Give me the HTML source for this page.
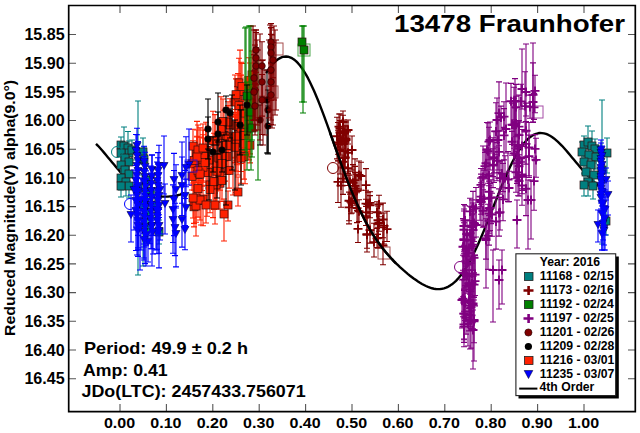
<!DOCTYPE html>
<html><head><meta charset="utf-8"><style>
html,body{margin:0;padding:0;background:#fff;}
svg{display:block;}
text{font-family:"Liberation Sans",sans-serif;font-weight:bold;fill:#000;}
</style></head><body>
<svg width="640" height="433" viewBox="0 0 640 433">
<rect width="640" height="433" fill="#fff"/>
<path d="M96.0 143.8 L98.0 145.8 L100.0 148.0 L102.0 150.3 L104.0 152.6 L106.0 155.0 L108.0 157.4 L110.0 159.8 L112.0 162.2 L114.0 164.6 L116.0 167.0 L118.0 169.3 L120.0 171.6 L122.0 173.8 L124.0 175.9 L126.0 178.0 L128.0 179.9 L130.0 181.8M156.0 195.7 L158.0 196.1 L160.0 196.3 L162.0 196.5 L164.0 196.6 L166.0 196.6 L168.0 196.6 L170.0 196.4 L172.0 196.2 L174.0 195.9 L176.0 195.6 L178.0 195.1 L180.0 194.6 L182.0 194.0 L184.0 193.3M266.0 73.1 L268.0 70.1 L270.0 67.4 L272.0 64.9 L274.0 62.8 L276.0 60.9 L278.0 59.3 L280.0 58.1 L282.0 57.2 L284.0 56.7 L286.0 56.5 L288.0 56.7 L290.0 57.3 L292.0 58.2 L294.0 59.5 L296.0 61.1 L298.0 63.2 L300.0 65.5 L302.0 68.2 L304.0 71.3 L306.0 74.6 L308.0 78.2 L310.0 82.2 L312.0 86.4 L314.0 90.8 L316.0 95.5 L318.0 100.3 L320.0 105.4 L322.0 110.6 L324.0 115.9 L326.0 121.4 L328.0 126.9 L330.0 132.5 L332.0 138.1 L334.0 143.8 L336.0 149.4 L338.0 155.0 L340.0 160.6 L342.0 166.1 L344.0 171.5 L346.0 176.8 L348.0 182.0 L350.0 187.1 L352.0 192.1 L354.0 196.9 L356.0 201.5 L358.0 206.0 L360.0 210.4 L362.0 214.5 L364.0 218.5 L366.0 222.4 L368.0 226.0 L370.0 229.5 L372.0 232.9 L374.0 236.1 L376.0 239.1 L378.0 242.0 L380.0 244.8 L382.0 247.5 L384.0 250.0 L386.0 252.5 L388.0 254.8 L390.0 257.0 L392.0 259.2 L394.0 261.3 L396.0 263.3 L398.0 265.2 L400.0 267.1 L402.0 268.9 L404.0 270.7 L406.0 272.4 L408.0 274.1 L410.0 275.7 L412.0 277.2 L414.0 278.7 L416.0 280.1 L418.0 281.5 L420.0 282.8 L422.0 284.0 L424.0 285.0 L426.0 286.0 L428.0 286.9 L430.0 287.6 L432.0 288.3 L434.0 288.7 L436.0 289.0 L438.0 289.1 L440.0 289.1 L442.0 288.8 L444.0 288.4 L446.0 287.7 L448.0 286.8 L450.0 285.6 L452.0 284.3 L454.0 282.6 L456.0 280.8 L458.0 278.7 L460.0 276.3 L462.0 273.7 L464.0 270.8 L466.0 267.7 L468.0 264.3 L470.0 260.8 L472.0 257.0 L474.0 252.9 L476.0 248.7 L478.0 244.4 L480.0 239.8 L482.0 235.2 L484.0 230.4 L486.0 225.4 L488.0 220.5 L490.0 215.4 L492.0 210.3 L494.0 205.2 L496.0 200.2 L498.0 195.1 L500.0 190.2 L502.0 185.3 L504.0 180.5 L506.0 175.9 L508.0 171.4 L510.0 167.0 L512.0 162.9 L514.0 159.0 L516.0 155.4 L518.0 151.9 L520.0 148.8 L522.0 145.9 L524.0 143.3 L526.0 140.9 L528.0 138.9 L530.0 137.2 L532.0 135.8 L534.0 134.6 L536.0 133.8 L538.0 133.3 L540.0 133.0 L542.0 133.1 L544.0 133.4 L546.0 133.9 L548.0 134.7 L550.0 135.8 L552.0 137.0 L554.0 138.4 L556.0 140.1 L558.0 141.9 L560.0 143.8 L562.0 145.8 L564.0 148.0 L566.0 150.3 L568.0 152.6 L570.0 155.0 L572.0 157.4 L574.0 159.8 L576.0 162.2 L578.0 164.6 L580.0 167.0 L582.0 169.3 L584.0 171.6 L586.0 173.8 L588.0 175.9 L590.0 178.0 L592.0 179.9 L594.0 181.8 L596.0 183.5 L598.0 185.1 L600.0 186.6 L602.0 188.1 L604.0 189.3 L606.0 190.5" fill="none" stroke="#000" stroke-width="2.4" stroke-linejoin="round"/>
<g stroke-linecap="butt">
<g stroke-width="1.1" fill="none"><path d="M121 137.0V153.0M118 137.0h6M118 153.0h6" stroke="#008080"/><path d="M124 127.0V161.0M121 127.0h6M121 161.0h6" stroke="#008080"/><path d="M128 131.5V162.0M125 131.5h6M125 162.0h6" stroke="#008080"/><path d="M129 141.0V165.0M126 141.0h6M126 165.0h6" stroke="#008080"/><path d="M121 143.0V163.0M118 143.0h6M118 163.0h6" stroke="#008080"/><path d="M125 146.0V170.0M122 146.0h6M122 170.0h6" stroke="#008080"/><path d="M129 150.0V174.0M126 150.0h6M126 174.0h6" stroke="#008080"/><path d="M121 155.0V175.0M118 155.0h6M118 175.0h6" stroke="#008080"/><path d="M125 158.0V182.0M122 158.0h6M122 182.0h6" stroke="#008080"/><path d="M129 162.0V186.0M126 162.0h6M126 186.0h6" stroke="#008080"/><path d="M121 166.0V190.0M118 166.0h6M118 190.0h6" stroke="#008080"/><path d="M126 168.0V196.0M123 168.0h6M123 196.0h6" stroke="#008080"/><path d="M129 174.0V198.0M126 174.0h6M126 198.0h6" stroke="#008080"/><path d="M121 175.0V197.0M118 175.0h6M118 197.0h6" stroke="#008080"/><path d="M143 138.0V164.0M140 138.0h6M140 164.0h6" stroke="#008080"/><path d="M144 147.0V171.0M141 147.0h6M141 171.0h6" stroke="#008080"/><path d="M132 140.0V160.0M129 140.0h6M129 160.0h6" stroke="#008080"/><path d="M138 101.0V275.0M135 101.0h6M135 275.0h6" stroke="#008080"/><path d="M143 175.0V266.0M140 175.0h6M140 266.0h6" stroke="#008080"/><path d="M148 213.0V243.0M145 213.0h6M145 243.0h6" stroke="#008080"/><path d="M159 220.0V244.0M156 220.0h6M156 244.0h6" stroke="#008080"/><path d="M155 191.0V219.0M152 191.0h6M152 219.0h6" stroke="#008080"/><path d="M150 178.0V206.0M147 178.0h6M147 206.0h6" stroke="#008080"/><path d="M148 198.0V226.0M145 198.0h6M145 226.0h6" stroke="#008080"/><path d="M146 166.0V194.0M143 166.0h6M143 194.0h6" stroke="#008080"/><path d="M584 136.0V157.0M581 136.0h6M581 157.0h6" stroke="#008080"/><path d="M588 126.0V156.0M585 126.0h6M585 156.0h6" stroke="#008080"/><path d="M592 131.0V160.0M589 131.0h6M589 160.0h6" stroke="#008080"/><path d="M595 139.0V161.0M592 139.0h6M592 161.0h6" stroke="#008080"/><path d="M582 142.0V162.0M579 142.0h6M579 162.0h6" stroke="#008080"/><path d="M589 143.0V167.0M586 143.0h6M586 167.0h6" stroke="#008080"/><path d="M596 145.0V169.0M593 145.0h6M593 169.0h6" stroke="#008080"/><path d="M584 150.0V174.0M581 150.0h6M581 174.0h6" stroke="#008080"/><path d="M591 153.0V177.0M588 153.0h6M588 177.0h6" stroke="#008080"/><path d="M586 160.0V184.0M583 160.0h6M583 184.0h6" stroke="#008080"/><path d="M594 163.0V187.0M591 163.0h6M591 187.0h6" stroke="#008080"/><path d="M588 168.0V196.0M585 168.0h6M585 196.0h6" stroke="#008080"/><path d="M584 173.0V196.0M581 173.0h6M581 196.0h6" stroke="#008080"/><path d="M593 174.0V199.0M590 174.0h6M590 199.0h6" stroke="#008080"/><path d="M602 100.0V244.0M599 100.0h6M599 244.0h6" stroke="#008080"/><path d="M607 138.0V173.0M604 138.0h6M604 173.0h6" stroke="#008080"/><path d="M606 207.0V235.0M603 207.0h6M603 235.0h6" stroke="#008080"/></g><rect x="117" y="141.0" width="8" height="8" fill="#008080" stroke="#301010" stroke-width="0.7"/><rect x="120" y="142.0" width="8" height="8" fill="#008080" stroke="#301010" stroke-width="0.7"/><rect x="124" y="144.0" width="8" height="8" fill="#008080" stroke="#301010" stroke-width="0.7"/><rect x="125" y="149.0" width="8" height="8" fill="#008080" stroke="#301010" stroke-width="0.7"/><rect x="117" y="149.0" width="8" height="8" fill="#008080" stroke="#301010" stroke-width="0.7"/><rect x="121" y="154.0" width="8" height="8" fill="#008080" stroke="#301010" stroke-width="0.7"/><rect x="125" y="158.0" width="8" height="8" fill="#008080" stroke="#301010" stroke-width="0.7"/><rect x="117" y="161.0" width="8" height="8" fill="#008080" stroke="#301010" stroke-width="0.7"/><rect x="121" y="166.0" width="8" height="8" fill="#008080" stroke="#301010" stroke-width="0.7"/><rect x="125" y="170.0" width="8" height="8" fill="#008080" stroke="#301010" stroke-width="0.7"/><rect x="117" y="174.0" width="8" height="8" fill="#008080" stroke="#301010" stroke-width="0.7"/><rect x="122" y="178.0" width="8" height="8" fill="#008080" stroke="#301010" stroke-width="0.7"/><rect x="125" y="182.0" width="8" height="8" fill="#008080" stroke="#301010" stroke-width="0.7"/><rect x="117" y="182.0" width="8" height="8" fill="#008080" stroke="#301010" stroke-width="0.7"/><rect x="139" y="148.0" width="8" height="8" fill="#008080" stroke="#301010" stroke-width="0.7"/><rect x="140" y="155.0" width="8" height="8" fill="#008080" stroke="#301010" stroke-width="0.7"/><rect x="128" y="146.0" width="8" height="8" fill="#008080" stroke="#301010" stroke-width="0.7"/><rect x="134" y="184.0" width="8" height="8" fill="#008080" stroke="#301010" stroke-width="0.7"/><rect x="139" y="201.0" width="8" height="8" fill="#008080" stroke="#301010" stroke-width="0.7"/><rect x="144" y="224.0" width="8" height="8" fill="#008080" stroke="#301010" stroke-width="0.7"/><rect x="155" y="228.0" width="8" height="8" fill="#008080" stroke="#301010" stroke-width="0.7"/><rect x="151" y="201.0" width="8" height="8" fill="#008080" stroke="#301010" stroke-width="0.7"/><rect x="146" y="188.0" width="8" height="8" fill="#008080" stroke="#301010" stroke-width="0.7"/><rect x="144" y="208.0" width="8" height="8" fill="#008080" stroke="#301010" stroke-width="0.7"/><rect x="142" y="176.0" width="8" height="8" fill="#008080" stroke="#301010" stroke-width="0.7"/><circle cx="117" cy="152.0" r="5.5" fill="none" stroke="#008080" stroke-width="1"/><rect x="580" y="141.0" width="8" height="8" fill="#008080" stroke="#301010" stroke-width="0.7"/><rect x="584" y="138.0" width="8" height="8" fill="#008080" stroke="#301010" stroke-width="0.7"/><rect x="588" y="142.0" width="8" height="8" fill="#008080" stroke="#301010" stroke-width="0.7"/><rect x="591" y="145.0" width="8" height="8" fill="#008080" stroke="#301010" stroke-width="0.7"/><rect x="578" y="148.0" width="8" height="8" fill="#008080" stroke="#301010" stroke-width="0.7"/><rect x="585" y="151.0" width="8" height="8" fill="#008080" stroke="#301010" stroke-width="0.7"/><rect x="592" y="153.0" width="8" height="8" fill="#008080" stroke="#301010" stroke-width="0.7"/><rect x="580" y="158.0" width="8" height="8" fill="#008080" stroke="#301010" stroke-width="0.7"/><rect x="587" y="161.0" width="8" height="8" fill="#008080" stroke="#301010" stroke-width="0.7"/><rect x="582" y="168.0" width="8" height="8" fill="#008080" stroke="#301010" stroke-width="0.7"/><rect x="590" y="171.0" width="8" height="8" fill="#008080" stroke="#301010" stroke-width="0.7"/><rect x="584" y="178.0" width="8" height="8" fill="#008080" stroke="#301010" stroke-width="0.7"/><rect x="580" y="181.0" width="8" height="8" fill="#008080" stroke="#301010" stroke-width="0.7"/><rect x="589" y="182.0" width="8" height="8" fill="#008080" stroke="#301010" stroke-width="0.7"/><rect x="598" y="166.0" width="8" height="8" fill="#008080" stroke="#301010" stroke-width="0.7"/><rect x="603" y="149.0" width="8" height="8" fill="#008080" stroke="#301010" stroke-width="0.7"/><rect x="602" y="217.0" width="8" height="8" fill="#008080" stroke="#301010" stroke-width="0.7"/><g stroke-width="1.1" fill="none"><path d="M206 130.1V175.1M203 130.1h6M203 175.1h6" stroke="#ff2000"/><path d="M194 163.9V190.2M191 163.9h6M191 190.2h6" stroke="#ff2000"/><path d="M210 170.7V201.7M207 170.7h6M207 201.7h6" stroke="#ff2000"/><path d="M217 131.3V189.4M214 131.3h6M214 189.4h6" stroke="#ff2000"/><path d="M197 130.0V167.8M194 130.0h6M194 167.8h6" stroke="#ff2000"/><path d="M220 129.7V167.2M217 129.7h6M217 167.2h6" stroke="#ff2000"/><path d="M222 128.1V166.5M219 128.1h6M219 166.5h6" stroke="#ff2000"/><path d="M227 137.9V174.5M224 137.9h6M224 174.5h6" stroke="#ff2000"/><path d="M224 110.3V164.2M221 110.3h6M221 164.2h6" stroke="#ff2000"/><path d="M198 158.8V190.6M195 158.8h6M195 190.6h6" stroke="#ff2000"/><path d="M230 98.8V150.8M227 98.8h6M227 150.8h6" stroke="#ff2000"/><path d="M229 147.3V188.1M226 147.3h6M226 188.1h6" stroke="#ff2000"/><path d="M220 158.4V209.1M217 158.4h6M217 209.1h6" stroke="#ff2000"/><path d="M192 162.1V190.0M189 162.1h6M189 190.0h6" stroke="#ff2000"/><path d="M197 136.3V176.4M194 136.3h6M194 176.4h6" stroke="#ff2000"/><path d="M216 150.9V206.6M213 150.9h6M213 206.6h6" stroke="#ff2000"/><path d="M207 165.6V216.3M204 165.6h6M204 216.3h6" stroke="#ff2000"/><path d="M202 150.5V190.5M199 150.5h6M199 190.5h6" stroke="#ff2000"/><path d="M208 141.0V201.9M205 141.0h6M205 201.9h6" stroke="#ff2000"/><path d="M221 96.7V160.9M218 96.7h6M218 160.9h6" stroke="#ff2000"/><path d="M209 146.2V175.7M206 146.2h6M206 175.7h6" stroke="#ff2000"/><path d="M200 137.1V168.7M197 137.1h6M197 168.7h6" stroke="#ff2000"/><path d="M196 151.0V182.6M193 151.0h6M193 182.6h6" stroke="#ff2000"/><path d="M202 146.6V186.1M199 146.6h6M199 186.1h6" stroke="#ff2000"/><path d="M212 152.5V179.9M209 152.5h6M209 179.9h6" stroke="#ff2000"/><path d="M228 101.7V133.2M225 101.7h6M225 133.2h6" stroke="#ff2000"/><path d="M215 114.6V167.0M212 114.6h6M212 167.0h6" stroke="#ff2000"/><path d="M203 145.6V181.0M200 145.6h6M200 181.0h6" stroke="#ff2000"/><path d="M206 122.2V185.2M203 122.2h6M203 185.2h6" stroke="#ff2000"/><path d="M228 139.9V174.3M225 139.9h6M225 174.3h6" stroke="#ff2000"/><path d="M192 144.3V185.3M189 144.3h6M189 185.3h6" stroke="#ff2000"/><path d="M233 141.3V195.0M230 141.3h6M230 195.0h6" stroke="#ff2000"/><path d="M200 127.9V182.9M197 127.9h6M197 182.9h6" stroke="#ff2000"/><path d="M220 156.0V190.2M217 156.0h6M217 190.2h6" stroke="#ff2000"/><path d="M225 126.6V161.1M222 126.6h6M222 161.1h6" stroke="#ff2000"/><path d="M235 97.0V143.4M232 97.0h6M232 143.4h6" stroke="#ff2000"/><path d="M197 121.4V177.9M194 121.4h6M194 177.9h6" stroke="#ff2000"/><path d="M235 121.3V158.0M232 121.3h6M232 158.0h6" stroke="#ff2000"/><path d="M235 114.4V162.6M232 114.4h6M232 162.6h6" stroke="#ff2000"/><path d="M228 105.5V138.2M225 105.5h6M225 138.2h6" stroke="#ff2000"/><path d="M203 148.4V182.3M200 148.4h6M200 182.3h6" stroke="#ff2000"/><path d="M217 157.6V202.5M214 157.6h6M214 202.5h6" stroke="#ff2000"/><path d="M215 122.5V157.8M212 122.5h6M212 157.8h6" stroke="#ff2000"/><path d="M199 146.6V196.6M196 146.6h6M196 196.6h6" stroke="#ff2000"/><path d="M216 160.9V191.0M213 160.9h6M213 191.0h6" stroke="#ff2000"/><path d="M226 120.1V172.3M223 120.1h6M223 172.3h6" stroke="#ff2000"/><path d="M219 133.8V179.4M216 133.8h6M216 179.4h6" stroke="#ff2000"/><path d="M213 159.0V217.6M210 159.0h6M210 217.6h6" stroke="#ff2000"/><path d="M216 161.5V208.2M213 161.5h6M213 208.2h6" stroke="#ff2000"/><path d="M194 144.2V177.3M191 144.2h6M191 177.3h6" stroke="#ff2000"/><path d="M198 167.7V217.1M195 167.7h6M195 217.1h6" stroke="#ff2000"/><path d="M201 180.4V225.0M198 180.4h6M198 225.0h6" stroke="#ff2000"/><path d="M198 150.0V190.3M195 150.0h6M195 190.3h6" stroke="#ff2000"/><path d="M223 99.0V139.8M220 99.0h6M220 139.8h6" stroke="#ff2000"/><path d="M219 140.1V174.8M216 140.1h6M216 174.8h6" stroke="#ff2000"/><path d="M196 144.9V174.5M193 144.9h6M193 174.5h6" stroke="#ff2000"/><path d="M210 164.9V212.7M207 164.9h6M207 212.7h6" stroke="#ff2000"/><path d="M217 158.5V187.8M214 158.5h6M214 187.8h6" stroke="#ff2000"/><path d="M194 179.7V226.9M191 179.7h6M191 226.9h6" stroke="#ff2000"/><path d="M194 181.8V223.4M191 181.8h6M191 223.4h6" stroke="#ff2000"/><path d="M203 130.0V169.0M200 130.0h6M200 169.0h6" stroke="#ff2000"/><path d="M193 140.7V179.1M190 140.7h6M190 179.1h6" stroke="#ff2000"/><path d="M214 133.3V166.6M211 133.3h6M211 166.6h6" stroke="#ff2000"/><path d="M224 134.8V171.7M221 134.8h6M221 171.7h6" stroke="#ff2000"/><path d="M228 112.1V157.9M225 112.1h6M225 157.9h6" stroke="#ff2000"/><path d="M222 158.4V201.5M219 158.4h6M219 201.5h6" stroke="#ff2000"/><path d="M209 147.3V172.3M206 147.3h6M206 172.3h6" stroke="#ff2000"/><path d="M203 134.7V169.7M200 134.7h6M200 169.7h6" stroke="#ff2000"/><path d="M204 138.0V172.5M201 138.0h6M201 172.5h6" stroke="#ff2000"/><path d="M203 169.0V225.7M200 169.0h6M200 225.7h6" stroke="#ff2000"/><path d="M205 149.1V176.4M202 149.1h6M202 176.4h6" stroke="#ff2000"/><path d="M200 161.4V185.9M197 161.4h6M197 185.9h6" stroke="#ff2000"/><path d="M193 129.2V165.6M190 129.2h6M190 165.6h6" stroke="#ff2000"/><path d="M225 127.4V181.1M222 127.4h6M222 181.1h6" stroke="#ff2000"/><path d="M235 75.0V123.0M232 75.0h6M232 123.0h6" stroke="#ff2000"/><path d="M231 116.4V167.4M228 116.4h6M228 167.4h6" stroke="#ff2000"/><path d="M214 151.3V209.5M211 151.3h6M211 209.5h6" stroke="#ff2000"/><path d="M222 149.1V178.5M219 149.1h6M219 178.5h6" stroke="#ff2000"/><path d="M196 174.0V222.2M193 174.0h6M193 222.2h6" stroke="#ff2000"/><path d="M213 111.2V167.4M210 111.2h6M210 167.4h6" stroke="#ff2000"/><path d="M238 144.3V175.0M235 144.3h6M235 175.0h6" stroke="#ff2000"/><path d="M252 51.0V98.7M249 51.0h6M249 98.7h6" stroke="#ff2000"/><path d="M237 138.4V164.7M234 138.4h6M234 164.7h6" stroke="#ff2000"/><path d="M241 136.4V171.5M238 136.4h6M238 171.5h6" stroke="#ff2000"/><path d="M235 117.1V157.2M232 117.1h6M232 157.2h6" stroke="#ff2000"/><path d="M243 100.0V153.7M240 100.0h6M240 153.7h6" stroke="#ff2000"/><path d="M251 82.8V120.6M248 82.8h6M248 120.6h6" stroke="#ff2000"/><path d="M250 63.0V102.5M247 63.0h6M247 102.5h6" stroke="#ff2000"/><path d="M236 112.6V171.1M233 112.6h6M233 171.1h6" stroke="#ff2000"/><path d="M238 73.5V114.6M235 73.5h6M235 114.6h6" stroke="#ff2000"/><path d="M243 118.1V147.9M240 118.1h6M240 147.9h6" stroke="#ff2000"/><path d="M239 93.7V139.6M236 93.7h6M236 139.6h6" stroke="#ff2000"/><path d="M241 62.3V113.3M238 62.3h6M238 113.3h6" stroke="#ff2000"/><path d="M239 58.3V105.7M236 58.3h6M236 105.7h6" stroke="#ff2000"/><path d="M238 96.6V138.9M235 96.6h6M235 138.9h6" stroke="#ff2000"/><path d="M236 78.9V109.5M233 78.9h6M233 109.5h6" stroke="#ff2000"/><path d="M243 109.9V158.3M240 109.9h6M240 158.3h6" stroke="#ff2000"/><path d="M241 101.4V156.5M238 101.4h6M238 156.5h6" stroke="#ff2000"/><path d="M249 57.7V113.7M246 57.7h6M246 113.7h6" stroke="#ff2000"/><path d="M252 90.1V126.6M249 90.1h6M249 126.6h6" stroke="#ff2000"/><path d="M245 94.6V131.5M242 94.6h6M242 131.5h6" stroke="#ff2000"/><path d="M242 63.4V109.2M239 63.4h6M239 109.2h6" stroke="#ff2000"/><path d="M241 92.5V125.2M238 92.5h6M238 125.2h6" stroke="#ff2000"/><path d="M247 109.8V151.5M244 109.8h6M244 151.5h6" stroke="#ff2000"/><path d="M236 138.1V192.5M233 138.1h6M233 192.5h6" stroke="#ff2000"/><path d="M238 98.9V147.2M235 98.9h6M235 147.2h6" stroke="#ff2000"/><path d="M250 93.8V153.9M247 93.8h6M247 153.9h6" stroke="#ff2000"/><path d="M244 133.0V179.1M241 133.0h6M241 179.1h6" stroke="#ff2000"/><path d="M245 129.2V183.8M242 129.2h6M242 183.8h6" stroke="#ff2000"/><path d="M241 132.6V183.3M238 132.6h6M238 183.3h6" stroke="#ff2000"/><path d="M249 92.5V156.8M246 92.5h6M246 156.8h6" stroke="#ff2000"/><path d="M241 91.4V138.3M238 91.4h6M238 138.3h6" stroke="#ff2000"/><path d="M235 129.4V162.7M232 129.4h6M232 162.7h6" stroke="#ff2000"/><path d="M239 78.8V130.2M236 78.8h6M236 130.2h6" stroke="#ff2000"/><path d="M241 75.1V140.3M238 75.1h6M238 140.3h6" stroke="#ff2000"/><path d="M249 90.2V146.4M246 90.2h6M246 146.4h6" stroke="#ff2000"/><path d="M241 100.9V163.5M238 100.9h6M238 163.5h6" stroke="#ff2000"/><path d="M236 115.2V160.7M233 115.2h6M233 160.7h6" stroke="#ff2000"/><path d="M250 129.0V162.9M247 129.0h6M247 162.9h6" stroke="#ff2000"/><path d="M240 50.1V113.4M237 50.1h6M237 113.4h6" stroke="#ff2000"/><path d="M249 109.5V159.9M246 109.5h6M246 159.9h6" stroke="#ff2000"/><path d="M240 87.9V131.1M237 87.9h6M237 131.1h6" stroke="#ff2000"/><path d="M237 86.6V128.8M234 86.6h6M234 128.8h6" stroke="#ff2000"/><path d="M238 89.1V121.8M235 89.1h6M235 121.8h6" stroke="#ff2000"/><path d="M244 107.6V160.8M241 107.6h6M241 160.8h6" stroke="#ff2000"/><path d="M224 199.0V241.0M221 199.0h6M221 241.0h6" stroke="#ff2000"/><path d="M196 191.0V236.0M193 191.0h6M193 236.0h6" stroke="#ff2000"/><path d="M200 190.0V220.0M197 190.0h6M197 220.0h6" stroke="#ff2000"/><path d="M215 193.0V224.0M212 193.0h6M212 224.0h6" stroke="#ff2000"/><path d="M206 195.0V223.0M203 195.0h6M203 223.0h6" stroke="#ff2000"/><path d="M238 177.0V206.0M235 177.0h6M235 206.0h6" stroke="#ff2000"/><path d="M193 183.0V218.0M190 183.0h6M190 218.0h6" stroke="#ff2000"/><path d="M228 191.0V221.0M225 191.0h6M225 221.0h6" stroke="#ff2000"/><path d="M198 125.0V170.0M195 125.0h6M195 170.0h6" stroke="#ff2000"/><path d="M203 124.0V168.0M200 124.0h6M200 168.0h6" stroke="#ff2000"/><path d="M197 137.0V177.0M194 137.0h6M194 177.0h6" stroke="#ff2000"/></g><rect x="202" y="146.4" width="8" height="8" fill="#ff2000" stroke="#301010" stroke-width="0.7"/><rect x="206" y="180.9" width="8" height="8" fill="#ff2000" stroke="#301010" stroke-width="0.7"/><rect x="193" y="147.3" width="8" height="8" fill="#ff2000" stroke="#301010" stroke-width="0.7"/><rect x="223" y="152.4" width="8" height="8" fill="#ff2000" stroke="#301010" stroke-width="0.7"/><rect x="220" y="131.5" width="8" height="8" fill="#ff2000" stroke="#301010" stroke-width="0.7"/><rect x="194" y="170.4" width="8" height="8" fill="#ff2000" stroke="#301010" stroke-width="0.7"/><rect x="226" y="120.9" width="8" height="8" fill="#ff2000" stroke="#301010" stroke-width="0.7"/><rect x="225" y="166.3" width="8" height="8" fill="#ff2000" stroke="#301010" stroke-width="0.7"/><rect x="216" y="179.2" width="8" height="8" fill="#ff2000" stroke="#301010" stroke-width="0.7"/><rect x="188" y="172.3" width="8" height="8" fill="#ff2000" stroke="#301010" stroke-width="0.7"/><rect x="193" y="155.6" width="8" height="8" fill="#ff2000" stroke="#301010" stroke-width="0.7"/><rect x="212" y="177.9" width="8" height="8" fill="#ff2000" stroke="#301010" stroke-width="0.7"/><rect x="198" y="167.7" width="8" height="8" fill="#ff2000" stroke="#301010" stroke-width="0.7"/><rect x="204" y="168.4" width="8" height="8" fill="#ff2000" stroke="#301010" stroke-width="0.7"/><rect x="217" y="124.2" width="8" height="8" fill="#ff2000" stroke="#301010" stroke-width="0.7"/><rect x="198" y="159.5" width="8" height="8" fill="#ff2000" stroke="#301010" stroke-width="0.7"/><rect x="211" y="137.3" width="8" height="8" fill="#ff2000" stroke="#301010" stroke-width="0.7"/><rect x="199" y="160.1" width="8" height="8" fill="#ff2000" stroke="#301010" stroke-width="0.7"/><rect x="202" y="150.5" width="8" height="8" fill="#ff2000" stroke="#301010" stroke-width="0.7"/><rect x="188" y="159.8" width="8" height="8" fill="#ff2000" stroke="#301010" stroke-width="0.7"/><rect x="196" y="151.7" width="8" height="8" fill="#ff2000" stroke="#301010" stroke-width="0.7"/><rect x="216" y="168.4" width="8" height="8" fill="#ff2000" stroke="#301010" stroke-width="0.7"/><rect x="221" y="141.4" width="8" height="8" fill="#ff2000" stroke="#301010" stroke-width="0.7"/><rect x="193" y="149.4" width="8" height="8" fill="#ff2000" stroke="#301010" stroke-width="0.7"/><rect x="231" y="136.7" width="8" height="8" fill="#ff2000" stroke="#301010" stroke-width="0.7"/><rect x="224" y="118.0" width="8" height="8" fill="#ff2000" stroke="#301010" stroke-width="0.7"/><rect x="199" y="163.2" width="8" height="8" fill="#ff2000" stroke="#301010" stroke-width="0.7"/><rect x="213" y="177.8" width="8" height="8" fill="#ff2000" stroke="#301010" stroke-width="0.7"/><rect x="211" y="136.9" width="8" height="8" fill="#ff2000" stroke="#301010" stroke-width="0.7"/><rect x="195" y="168.8" width="8" height="8" fill="#ff2000" stroke="#301010" stroke-width="0.7"/><rect x="222" y="141.5" width="8" height="8" fill="#ff2000" stroke="#301010" stroke-width="0.7"/><rect x="215" y="153.7" width="8" height="8" fill="#ff2000" stroke="#301010" stroke-width="0.7"/><rect x="212" y="180.9" width="8" height="8" fill="#ff2000" stroke="#301010" stroke-width="0.7"/><rect x="190" y="156.4" width="8" height="8" fill="#ff2000" stroke="#301010" stroke-width="0.7"/><rect x="194" y="184.7" width="8" height="8" fill="#ff2000" stroke="#301010" stroke-width="0.7"/><rect x="197" y="196.6" width="8" height="8" fill="#ff2000" stroke="#301010" stroke-width="0.7"/><rect x="194" y="166.8" width="8" height="8" fill="#ff2000" stroke="#301010" stroke-width="0.7"/><rect x="219" y="117.4" width="8" height="8" fill="#ff2000" stroke="#301010" stroke-width="0.7"/><rect x="215" y="154.0" width="8" height="8" fill="#ff2000" stroke="#301010" stroke-width="0.7"/><rect x="206" y="185.4" width="8" height="8" fill="#ff2000" stroke="#301010" stroke-width="0.7"/><rect x="213" y="167.2" width="8" height="8" fill="#ff2000" stroke="#301010" stroke-width="0.7"/><rect x="190" y="202.8" width="8" height="8" fill="#ff2000" stroke="#301010" stroke-width="0.7"/><rect x="190" y="197.7" width="8" height="8" fill="#ff2000" stroke="#301010" stroke-width="0.7"/><rect x="224" y="132.9" width="8" height="8" fill="#ff2000" stroke="#301010" stroke-width="0.7"/><rect x="218" y="176.4" width="8" height="8" fill="#ff2000" stroke="#301010" stroke-width="0.7"/><rect x="205" y="156.0" width="8" height="8" fill="#ff2000" stroke="#301010" stroke-width="0.7"/><rect x="199" y="148.1" width="8" height="8" fill="#ff2000" stroke="#301010" stroke-width="0.7"/><rect x="200" y="152.4" width="8" height="8" fill="#ff2000" stroke="#301010" stroke-width="0.7"/><rect x="199" y="195.2" width="8" height="8" fill="#ff2000" stroke="#301010" stroke-width="0.7"/><rect x="201" y="158.5" width="8" height="8" fill="#ff2000" stroke="#301010" stroke-width="0.7"/><rect x="196" y="170.1" width="8" height="8" fill="#ff2000" stroke="#301010" stroke-width="0.7"/><rect x="189" y="142.1" width="8" height="8" fill="#ff2000" stroke="#301010" stroke-width="0.7"/><rect x="221" y="152.7" width="8" height="8" fill="#ff2000" stroke="#301010" stroke-width="0.7"/><rect x="231" y="98.0" width="8" height="8" fill="#ff2000" stroke="#301010" stroke-width="0.7"/><rect x="227" y="141.3" width="8" height="8" fill="#ff2000" stroke="#301010" stroke-width="0.7"/><rect x="210" y="177.7" width="8" height="8" fill="#ff2000" stroke="#301010" stroke-width="0.7"/><rect x="218" y="159.4" width="8" height="8" fill="#ff2000" stroke="#301010" stroke-width="0.7"/><rect x="192" y="194.1" width="8" height="8" fill="#ff2000" stroke="#301010" stroke-width="0.7"/><rect x="209" y="136.6" width="8" height="8" fill="#ff2000" stroke="#301010" stroke-width="0.7"/><rect x="248" y="70.9" width="8" height="8" fill="#ff2000" stroke="#301010" stroke-width="0.7"/><rect x="237" y="149.3" width="8" height="8" fill="#ff2000" stroke="#301010" stroke-width="0.7"/><rect x="231" y="134.5" width="8" height="8" fill="#ff2000" stroke="#301010" stroke-width="0.7"/><rect x="247" y="99.0" width="8" height="8" fill="#ff2000" stroke="#301010" stroke-width="0.7"/><rect x="246" y="81.7" width="8" height="8" fill="#ff2000" stroke="#301010" stroke-width="0.7"/><rect x="232" y="138.4" width="8" height="8" fill="#ff2000" stroke="#301010" stroke-width="0.7"/><rect x="234" y="92.0" width="8" height="8" fill="#ff2000" stroke="#301010" stroke-width="0.7"/><rect x="237" y="87.6" width="8" height="8" fill="#ff2000" stroke="#301010" stroke-width="0.7"/><rect x="235" y="78.9" width="8" height="8" fill="#ff2000" stroke="#301010" stroke-width="0.7"/><rect x="232" y="90.7" width="8" height="8" fill="#ff2000" stroke="#301010" stroke-width="0.7"/><rect x="245" y="76.5" width="8" height="8" fill="#ff2000" stroke="#301010" stroke-width="0.7"/><rect x="241" y="109.1" width="8" height="8" fill="#ff2000" stroke="#301010" stroke-width="0.7"/><rect x="238" y="82.4" width="8" height="8" fill="#ff2000" stroke="#301010" stroke-width="0.7"/><rect x="243" y="125.0" width="8" height="8" fill="#ff2000" stroke="#301010" stroke-width="0.7"/><rect x="234" y="122.4" width="8" height="8" fill="#ff2000" stroke="#301010" stroke-width="0.7"/><rect x="240" y="152.4" width="8" height="8" fill="#ff2000" stroke="#301010" stroke-width="0.7"/><rect x="237" y="154.1" width="8" height="8" fill="#ff2000" stroke="#301010" stroke-width="0.7"/><rect x="245" y="120.1" width="8" height="8" fill="#ff2000" stroke="#301010" stroke-width="0.7"/><rect x="231" y="143.2" width="8" height="8" fill="#ff2000" stroke="#301010" stroke-width="0.7"/><rect x="235" y="101.7" width="8" height="8" fill="#ff2000" stroke="#301010" stroke-width="0.7"/><rect x="245" y="112.1" width="8" height="8" fill="#ff2000" stroke="#301010" stroke-width="0.7"/><rect x="237" y="128.6" width="8" height="8" fill="#ff2000" stroke="#301010" stroke-width="0.7"/><rect x="232" y="132.1" width="8" height="8" fill="#ff2000" stroke="#301010" stroke-width="0.7"/><rect x="246" y="141.2" width="8" height="8" fill="#ff2000" stroke="#301010" stroke-width="0.7"/><rect x="240" y="131.5" width="8" height="8" fill="#ff2000" stroke="#301010" stroke-width="0.7"/><rect x="220" y="210.0" width="8" height="8" fill="#ff2000" stroke="#301010" stroke-width="0.7"/><rect x="192" y="202.0" width="8" height="8" fill="#ff2000" stroke="#301010" stroke-width="0.7"/><rect x="196" y="196.0" width="8" height="8" fill="#ff2000" stroke="#301010" stroke-width="0.7"/><rect x="211" y="201.0" width="8" height="8" fill="#ff2000" stroke="#301010" stroke-width="0.7"/><rect x="202" y="201.0" width="8" height="8" fill="#ff2000" stroke="#301010" stroke-width="0.7"/><rect x="234" y="188.0" width="8" height="8" fill="#ff2000" stroke="#301010" stroke-width="0.7"/><rect x="189" y="194.0" width="8" height="8" fill="#ff2000" stroke="#301010" stroke-width="0.7"/><rect x="224" y="201.0" width="8" height="8" fill="#ff2000" stroke="#301010" stroke-width="0.7"/><rect x="194" y="146.0" width="8" height="8" fill="#ff2000" stroke="#301010" stroke-width="0.7"/><rect x="199" y="144.0" width="8" height="8" fill="#ff2000" stroke="#301010" stroke-width="0.7"/><rect x="193" y="153.0" width="8" height="8" fill="#ff2000" stroke="#301010" stroke-width="0.7"/><rect x="244" y="77.0" width="12" height="12" fill="none" stroke="#ff2000" stroke-width="1" stroke-opacity="0.7"/><rect x="191" y="160.0" width="12" height="12" fill="none" stroke="#ff2000" stroke-width="1" stroke-opacity="0.7"/><g stroke-width="1.1" fill="none"><path d="M343 142.9V181.2M340 142.9h6M340 181.2h6" stroke="#800000"/><path d="M345 125.8V158.6M342 125.8h6M342 158.6h6" stroke="#800000"/><path d="M338 130.2V154.2M335 130.2h6M335 154.2h6" stroke="#800000"/><path d="M338 161.0V202.5M335 161.0h6M335 202.5h6" stroke="#800000"/><path d="M339 114.0V140.0M336 114.0h6M336 140.0h6" stroke="#800000"/><path d="M340 114.0V145.0M337 114.0h6M337 145.0h6" stroke="#800000"/><path d="M344 151.5V182.2M341 151.5h6M341 182.2h6" stroke="#800000"/><path d="M341 162.9V207.2M338 162.9h6M338 207.2h6" stroke="#800000"/><path d="M341 130.1V155.1M338 130.1h6M338 155.1h6" stroke="#800000"/><path d="M343 162.2V194.4M340 162.2h6M340 194.4h6" stroke="#800000"/><path d="M337 117.3V158.9M334 117.3h6M334 158.9h6" stroke="#800000"/><path d="M343 115.3V148.2M340 115.3h6M340 148.2h6" stroke="#800000"/><path d="M338 122.5V160.8M335 122.5h6M335 160.8h6" stroke="#800000"/><path d="M340 120.6V141.7M337 120.6h6M337 141.7h6" stroke="#800000"/><path d="M345 144.1V167.2M342 144.1h6M342 167.2h6" stroke="#800000"/><path d="M346 126.0V151.4M343 126.0h6M343 151.4h6" stroke="#800000"/><path d="M357 192.7V222.6M354 192.7h6M354 222.6h6" stroke="#800000"/><path d="M355 158.9V200.6M352 158.9h6M352 200.6h6" stroke="#800000"/><path d="M359 199.8V221.5M356 199.8h6M356 221.5h6" stroke="#800000"/><path d="M366 168.6V206.4M363 168.6h6M363 206.4h6" stroke="#800000"/><path d="M355 172.4V205.2M352 172.4h6M352 205.2h6" stroke="#800000"/><path d="M366 199.2V225.5M363 199.2h6M363 225.5h6" stroke="#800000"/><path d="M350 171.2V194.1M347 171.2h6M347 194.1h6" stroke="#800000"/><path d="M351 192.6V213.8M348 192.6h6M348 213.8h6" stroke="#800000"/><path d="M356 174.1V207.5M353 174.1h6M353 207.5h6" stroke="#800000"/><path d="M349 175.1V223.9M346 175.1h6M346 223.9h6" stroke="#800000"/><path d="M355 166.4V201.4M352 166.4h6M352 201.4h6" stroke="#800000"/><path d="M353 164.6V198.9M350 164.6h6M350 198.9h6" stroke="#800000"/><path d="M349 192.1V220.8M346 192.1h6M346 220.8h6" stroke="#800000"/><path d="M357 174.6V210.4M354 174.6h6M354 210.4h6" stroke="#800000"/><path d="M352 193.7V213.0M349 193.7h6M349 213.0h6" stroke="#800000"/><path d="M361 162.3V190.2M358 162.3h6M358 190.2h6" stroke="#800000"/><path d="M358 210.2V242.5M355 210.2h6M355 242.5h6" stroke="#800000"/><path d="M366 190.2V217.9M363 190.2h6M363 217.9h6" stroke="#800000"/><path d="M348 150.2V185.5M345 150.2h6M345 185.5h6" stroke="#800000"/><path d="M348 131.9V173.6M345 131.9h6M345 173.6h6" stroke="#800000"/><path d="M370 213.2V243.1M367 213.2h6M367 243.1h6" stroke="#800000"/><path d="M370 191.7V211.7M367 191.7h6M367 211.7h6" stroke="#800000"/><path d="M377 201.7V224.8M374 201.7h6M374 224.8h6" stroke="#800000"/><path d="M379 195.2V216.8M376 195.2h6M376 216.8h6" stroke="#800000"/><path d="M383 227.6V264.7M380 227.6h6M380 264.7h6" stroke="#800000"/><path d="M383 203.1V237.7M380 203.1h6M380 237.7h6" stroke="#800000"/><path d="M378 212.4V234.4M375 212.4h6M375 234.4h6" stroke="#800000"/><path d="M367 215.7V252.0M364 215.7h6M364 252.0h6" stroke="#800000"/><path d="M377 228.4V247.5M374 228.4h6M374 247.5h6" stroke="#800000"/><path d="M368 192.1V217.0M365 192.1h6M365 217.0h6" stroke="#800000"/><path d="M379 213.6V231.2M376 213.6h6M376 231.2h6" stroke="#800000"/><path d="M370 195.6V217.7M367 195.6h6M367 217.7h6" stroke="#800000"/><path d="M387 211.3V241.5M384 211.3h6M384 241.5h6" stroke="#800000"/><path d="M367 216.8V248.2M364 216.8h6M364 248.2h6" stroke="#800000"/><path d="M374 223.2V257.0M371 223.2h6M371 257.0h6" stroke="#800000"/><path d="M384 213.0V244.0M381 213.0h6M381 244.0h6" stroke="#800000"/><path d="M378 227.3V248.3M375 227.3h6M375 248.3h6" stroke="#800000"/><path d="M378 206.0V234.3M375 206.0h6M375 234.3h6" stroke="#800000"/><path d="M343 111.0V136.0M340 111.0h6M340 136.0h6" stroke="#800000"/><path d="M344 120.0V144.0M341 120.0h6M341 144.0h6" stroke="#800000"/><path d="M346 122.0V158.0M343 122.0h6M343 158.0h6" stroke="#800000"/><path d="M340 138.0V174.0M337 138.0h6M337 174.0h6" stroke="#800000"/><path d="M345 144.0V172.0M342 144.0h6M342 172.0h6" stroke="#800000"/><path d="M352 136.0V170.0M349 136.0h6M349 170.0h6" stroke="#800000"/><path d="M359 161.0V189.0M356 161.0h6M356 189.0h6" stroke="#800000"/><path d="M348 120.0V144.0M345 120.0h6M345 144.0h6" stroke="#800000"/></g><path d="M338.5 161.8h9M343 157.3v9" stroke="#800000" stroke-width="1.9" fill="none"/><path d="M340.5 141.7h9M345 137.2v9" stroke="#800000" stroke-width="1.9" fill="none"/><path d="M333.5 142.5h9M338 138.0v9" stroke="#800000" stroke-width="1.9" fill="none"/><path d="M333.5 181.9h9M338 177.4v9" stroke="#800000" stroke-width="1.9" fill="none"/><path d="M334.5 126.6h9M339 122.1v9" stroke="#800000" stroke-width="1.9" fill="none"/><path d="M335.5 128.3h9M340 123.8v9" stroke="#800000" stroke-width="1.9" fill="none"/><path d="M339.5 167.5h9M344 163.0v9" stroke="#800000" stroke-width="1.9" fill="none"/><path d="M336.5 185.6h9M341 181.1v9" stroke="#800000" stroke-width="1.9" fill="none"/><path d="M336.5 140.8h9M341 136.3v9" stroke="#800000" stroke-width="1.9" fill="none"/><path d="M338.5 178.6h9M343 174.1v9" stroke="#800000" stroke-width="1.9" fill="none"/><path d="M332.5 136.2h9M337 131.7v9" stroke="#800000" stroke-width="1.9" fill="none"/><path d="M338.5 133.4h9M343 128.9v9" stroke="#800000" stroke-width="1.9" fill="none"/><path d="M333.5 144.2h9M338 139.7v9" stroke="#800000" stroke-width="1.9" fill="none"/><path d="M335.5 132.5h9M340 128.0v9" stroke="#800000" stroke-width="1.9" fill="none"/><path d="M340.5 157.1h9M345 152.6v9" stroke="#800000" stroke-width="1.9" fill="none"/><path d="M341.5 138.5h9M346 134.0v9" stroke="#800000" stroke-width="1.9" fill="none"/><path d="M352.5 208.1h9M357 203.6v9" stroke="#800000" stroke-width="1.9" fill="none"/><path d="M350.5 180.1h9M355 175.6v9" stroke="#800000" stroke-width="1.9" fill="none"/><path d="M354.5 211.3h9M359 206.8v9" stroke="#800000" stroke-width="1.9" fill="none"/><path d="M361.5 185.1h9M366 180.6v9" stroke="#800000" stroke-width="1.9" fill="none"/><path d="M350.5 188.6h9M355 184.1v9" stroke="#800000" stroke-width="1.9" fill="none"/><path d="M361.5 212.4h9M366 207.9v9" stroke="#800000" stroke-width="1.9" fill="none"/><path d="M345.5 181.9h9M350 177.4v9" stroke="#800000" stroke-width="1.9" fill="none"/><path d="M346.5 201.8h9M351 197.3v9" stroke="#800000" stroke-width="1.9" fill="none"/><path d="M351.5 191.1h9M356 186.6v9" stroke="#800000" stroke-width="1.9" fill="none"/><path d="M344.5 200.8h9M349 196.3v9" stroke="#800000" stroke-width="1.9" fill="none"/><path d="M350.5 185.9h9M355 181.4v9" stroke="#800000" stroke-width="1.9" fill="none"/><path d="M348.5 182.7h9M353 178.2v9" stroke="#800000" stroke-width="1.9" fill="none"/><path d="M344.5 207.4h9M349 202.9v9" stroke="#800000" stroke-width="1.9" fill="none"/><path d="M352.5 190.8h9M357 186.3v9" stroke="#800000" stroke-width="1.9" fill="none"/><path d="M347.5 203.2h9M352 198.7v9" stroke="#800000" stroke-width="1.9" fill="none"/><path d="M356.5 176.0h9M361 171.5v9" stroke="#800000" stroke-width="1.9" fill="none"/><path d="M353.5 228.9h9M358 224.4v9" stroke="#800000" stroke-width="1.9" fill="none"/><path d="M361.5 203.6h9M366 199.1v9" stroke="#800000" stroke-width="1.9" fill="none"/><path d="M343.5 168.2h9M348 163.7v9" stroke="#800000" stroke-width="1.9" fill="none"/><path d="M343.5 152.7h9M348 148.2v9" stroke="#800000" stroke-width="1.9" fill="none"/><path d="M365.5 230.1h9M370 225.6v9" stroke="#800000" stroke-width="1.9" fill="none"/><path d="M365.5 202.9h9M370 198.4v9" stroke="#800000" stroke-width="1.9" fill="none"/><path d="M372.5 212.3h9M377 207.8v9" stroke="#800000" stroke-width="1.9" fill="none"/><path d="M374.5 204.4h9M379 199.9v9" stroke="#800000" stroke-width="1.9" fill="none"/><path d="M378.5 245.5h9M383 241.0v9" stroke="#800000" stroke-width="1.9" fill="none"/><path d="M378.5 219.5h9M383 215.0v9" stroke="#800000" stroke-width="1.9" fill="none"/><path d="M373.5 223.7h9M378 219.2v9" stroke="#800000" stroke-width="1.9" fill="none"/><path d="M362.5 234.8h9M367 230.3v9" stroke="#800000" stroke-width="1.9" fill="none"/><path d="M372.5 238.4h9M377 233.9v9" stroke="#800000" stroke-width="1.9" fill="none"/><path d="M363.5 204.0h9M368 199.5v9" stroke="#800000" stroke-width="1.9" fill="none"/><path d="M374.5 222.8h9M379 218.3v9" stroke="#800000" stroke-width="1.9" fill="none"/><path d="M365.5 205.3h9M370 200.8v9" stroke="#800000" stroke-width="1.9" fill="none"/><path d="M382.5 229.1h9M387 224.6v9" stroke="#800000" stroke-width="1.9" fill="none"/><path d="M362.5 234.1h9M367 229.6v9" stroke="#800000" stroke-width="1.9" fill="none"/><path d="M369.5 242.1h9M374 237.6v9" stroke="#800000" stroke-width="1.9" fill="none"/><path d="M379.5 225.9h9M384 221.4v9" stroke="#800000" stroke-width="1.9" fill="none"/><path d="M373.5 237.9h9M378 233.4v9" stroke="#800000" stroke-width="1.9" fill="none"/><path d="M373.5 220.3h9M378 215.8v9" stroke="#800000" stroke-width="1.9" fill="none"/><path d="M338.5 122.0h9M343 117.5v9" stroke="#800000" stroke-width="1.9" fill="none"/><path d="M339.5 132.0h9M344 127.5v9" stroke="#800000" stroke-width="1.9" fill="none"/><path d="M341.5 140.0h9M346 135.5v9" stroke="#800000" stroke-width="1.9" fill="none"/><path d="M335.5 150.0h9M340 145.5v9" stroke="#800000" stroke-width="1.9" fill="none"/><path d="M340.5 158.0h9M345 153.5v9" stroke="#800000" stroke-width="1.9" fill="none"/><path d="M347.5 150.0h9M352 145.5v9" stroke="#800000" stroke-width="1.9" fill="none"/><path d="M354.5 175.0h9M359 170.5v9" stroke="#800000" stroke-width="1.9" fill="none"/><path d="M343.5 130.0h9M348 125.5v9" stroke="#800000" stroke-width="1.9" fill="none"/><circle cx="333" cy="168.0" r="5.5" fill="none" stroke="#800000" stroke-width="1"/><rect x="378" y="247.0" width="12" height="12" fill="none" stroke="#800000" stroke-width="1" stroke-opacity="0.7"/><g stroke-width="1.1" fill="none"><path d="M245 28.0V150.0M242 28.0h6M242 150.0h6" stroke="#008000"/><path d="M249 26.0V140.0M246 26.0h6M246 140.0h6" stroke="#008000"/><path d="M251 26.0V170.0M248 26.0h6M248 170.0h6" stroke="#008000"/><path d="M252 80.0V157.0M249 80.0h6M249 157.0h6" stroke="#008000"/><path d="M247 90.0V170.0M244 90.0h6M244 170.0h6" stroke="#008000"/><path d="M258 60.0V180.0M255 60.0h6M255 180.0h6" stroke="#008000"/><path d="M250 26.0V130.0M247 26.0h6M247 130.0h6" stroke="#008000"/><path d="M246 27.0V155.0M243 27.0h6M243 155.0h6" stroke="#008000"/><path d="M250 98.0V126.0M247 98.0h6M247 126.0h6" stroke="#008000"/><path d="M247 82.0V110.0M244 82.0h6M244 110.0h6" stroke="#008000"/><path d="M252 116.0V140.0M249 116.0h6M249 140.0h6" stroke="#008000"/><path d="M303 26.0V113.0M300 26.0h6M300 113.0h6" stroke="#008000"/><path d="M302 26.0V102.0M299 26.0h6M299 102.0h6" stroke="#008000"/><path d="M304 26.0V102.0M301 26.0h6M301 102.0h6" stroke="#008000"/></g><rect x="246" y="108.0" width="8" height="8" fill="#008000" stroke="#301010" stroke-width="0.7"/><rect x="243" y="92.0" width="8" height="8" fill="#008000" stroke="#301010" stroke-width="0.7"/><rect x="248" y="124.0" width="8" height="8" fill="#008000" stroke="#301010" stroke-width="0.7"/><rect x="298" y="38.0" width="8" height="8" fill="#008000" stroke="#301010" stroke-width="0.7"/><rect x="300" y="46.0" width="8" height="8" fill="#008000" stroke="#301010" stroke-width="0.7"/><rect x="298" y="44.0" width="12" height="12" fill="none" stroke="#008000" stroke-width="1" stroke-opacity="0.7"/><g stroke-width="1.1" fill="none"><path d="M465 278.9V320.5M462 278.9h6M462 320.5h6" stroke="#800080"/><path d="M473 284.4V322.7M470 284.4h6M470 322.7h6" stroke="#800080"/><path d="M463 255.2V296.8M460 255.2h6M460 296.8h6" stroke="#800080"/><path d="M466 241.0V270.1M463 241.0h6M463 270.1h6" stroke="#800080"/><path d="M474 272.9V297.1M471 272.9h6M471 297.1h6" stroke="#800080"/><path d="M464 311.2V346.8M461 311.2h6M461 346.8h6" stroke="#800080"/><path d="M464 304.7V342.4M461 304.7h6M461 342.4h6" stroke="#800080"/><path d="M469 233.7V259.4M466 233.7h6M466 259.4h6" stroke="#800080"/><path d="M472 214.7V276.8M469 214.7h6M469 276.8h6" stroke="#800080"/><path d="M472 263.1V306.7M469 263.1h6M469 306.7h6" stroke="#800080"/><path d="M473 213.7V270.4M470 213.7h6M470 270.4h6" stroke="#800080"/><path d="M467 254.2V293.3M464 254.2h6M464 293.3h6" stroke="#800080"/><path d="M463 218.6V270.2M460 218.6h6M460 270.2h6" stroke="#800080"/><path d="M469 262.1V308.4M466 262.1h6M466 308.4h6" stroke="#800080"/><path d="M470 276.4V303.4M467 276.4h6M467 303.4h6" stroke="#800080"/><path d="M474 237.9V276.0M471 237.9h6M471 276.0h6" stroke="#800080"/><path d="M464 290.4V339.8M461 290.4h6M461 339.8h6" stroke="#800080"/><path d="M471 289.1V348.1M468 289.1h6M468 348.1h6" stroke="#800080"/><path d="M475 255.0V305.9M472 255.0h6M472 305.9h6" stroke="#800080"/><path d="M466 305.6V334.1M463 305.6h6M463 334.1h6" stroke="#800080"/><path d="M472 252.7V296.5M469 252.7h6M469 296.5h6" stroke="#800080"/><path d="M466 261.9V287.8M463 261.9h6M463 287.8h6" stroke="#800080"/><path d="M474 297.5V342.7M471 297.5h6M471 342.7h6" stroke="#800080"/><path d="M475 255.4V295.5M472 255.4h6M472 295.5h6" stroke="#800080"/><path d="M473 276.2V328.7M470 276.2h6M470 328.7h6" stroke="#800080"/><path d="M470 294.3V326.9M467 294.3h6M467 326.9h6" stroke="#800080"/><path d="M472 199.9V245.6M469 199.9h6M469 245.6h6" stroke="#800080"/><path d="M470 265.0V314.6M467 265.0h6M467 314.6h6" stroke="#800080"/><path d="M468 301.2V346.0M465 301.2h6M465 346.0h6" stroke="#800080"/><path d="M464 222.7V261.0M461 222.7h6M461 261.0h6" stroke="#800080"/><path d="M471 220.6V260.3M468 220.6h6M468 260.3h6" stroke="#800080"/><path d="M466 235.6V266.1M463 235.6h6M463 266.1h6" stroke="#800080"/><path d="M470 206.3V259.1M467 206.3h6M467 259.1h6" stroke="#800080"/><path d="M472 210.7V248.2M469 210.7h6M469 248.2h6" stroke="#800080"/><path d="M465 285.6V317.8M462 285.6h6M462 317.8h6" stroke="#800080"/><path d="M464 253.7V289.0M461 253.7h6M461 289.0h6" stroke="#800080"/><path d="M469 260.5V311.6M466 260.5h6M466 311.6h6" stroke="#800080"/><path d="M469 275.9V330.9M466 275.9h6M466 330.9h6" stroke="#800080"/><path d="M469 269.7V299.9M466 269.7h6M466 299.9h6" stroke="#800080"/><path d="M467 239.7V286.4M464 239.7h6M464 286.4h6" stroke="#800080"/><path d="M464 290.0V339.0M461 290.0h6M461 339.0h6" stroke="#800080"/><path d="M463 279.4V316.8M460 279.4h6M460 316.8h6" stroke="#800080"/><path d="M468 240.6V264.6M465 240.6h6M465 264.6h6" stroke="#800080"/><path d="M471 284.3V328.5M468 284.3h6M468 328.5h6" stroke="#800080"/><path d="M473 209.5V237.5M470 209.5h6M470 237.5h6" stroke="#800080"/><path d="M473 191.4V226.5M470 191.4h6M470 226.5h6" stroke="#800080"/><path d="M474 205.1V241.5M471 205.1h6M471 241.5h6" stroke="#800080"/><path d="M464 204.5V245.3M461 204.5h6M461 245.3h6" stroke="#800080"/><path d="M467 220.1V248.6M464 220.1h6M464 248.6h6" stroke="#800080"/><path d="M465 205.7V234.0M462 205.7h6M462 234.0h6" stroke="#800080"/><path d="M476 208.2V237.0M473 208.2h6M473 237.0h6" stroke="#800080"/><path d="M464 209.0V251.8M461 209.0h6M461 251.8h6" stroke="#800080"/><path d="M476 187.5V223.6M473 187.5h6M473 223.6h6" stroke="#800080"/><path d="M470 198.3V225.4M467 198.3h6M467 225.4h6" stroke="#800080"/><path d="M504 101.7V127.4M501 101.7h6M501 127.4h6" stroke="#800080"/><path d="M483 189.8V227.1M480 189.8h6M480 227.1h6" stroke="#800080"/><path d="M504 108.6V159.9M501 108.6h6M501 159.9h6" stroke="#800080"/><path d="M503 163.4V191.6M500 163.4h6M500 191.6h6" stroke="#800080"/><path d="M488 123.0V183.3M485 123.0h6M485 183.3h6" stroke="#800080"/><path d="M499 188.9V236.1M496 188.9h6M496 236.1h6" stroke="#800080"/><path d="M486 218.7V259.1M483 218.7h6M483 259.1h6" stroke="#800080"/><path d="M496 102.7V154.9M493 102.7h6M493 154.9h6" stroke="#800080"/><path d="M481 186.9V214.2M478 186.9h6M478 214.2h6" stroke="#800080"/><path d="M493 137.7V187.6M490 137.7h6M490 187.6h6" stroke="#800080"/><path d="M489 173.8V209.5M486 173.8h6M486 209.5h6" stroke="#800080"/><path d="M491 179.8V223.6M488 179.8h6M488 223.6h6" stroke="#800080"/><path d="M489 153.0V198.2M486 153.0h6M486 198.2h6" stroke="#800080"/><path d="M493 148.7V176.6M490 148.7h6M490 176.6h6" stroke="#800080"/><path d="M494 140.3V172.9M491 140.3h6M491 172.9h6" stroke="#800080"/><path d="M481 174.1V225.2M478 174.1h6M478 225.2h6" stroke="#800080"/><path d="M497 98.0V142.6M494 98.0h6M494 142.6h6" stroke="#800080"/><path d="M492 193.3V236.2M489 193.3h6M489 236.2h6" stroke="#800080"/><path d="M505 155.7V199.8M502 155.7h6M502 199.8h6" stroke="#800080"/><path d="M489 185.7V245.1M486 185.7h6M486 245.1h6" stroke="#800080"/><path d="M480 178.1V220.3M477 178.1h6M477 220.3h6" stroke="#800080"/><path d="M497 147.0V180.7M494 147.0h6M494 180.7h6" stroke="#800080"/><path d="M489 127.2V159.8M486 127.2h6M486 159.8h6" stroke="#800080"/><path d="M485 152.5V178.3M482 152.5h6M482 178.3h6" stroke="#800080"/><path d="M489 175.8V231.7M486 175.8h6M486 231.7h6" stroke="#800080"/><path d="M489 209.6V233.2M486 209.6h6M486 233.2h6" stroke="#800080"/><path d="M490 183.5V230.5M487 183.5h6M487 230.5h6" stroke="#800080"/><path d="M486 149.1V174.5M483 149.1h6M483 174.5h6" stroke="#800080"/><path d="M502 160.6V187.2M499 160.6h6M499 187.2h6" stroke="#800080"/><path d="M481 182.8V206.7M478 182.8h6M478 206.7h6" stroke="#800080"/><path d="M496 197.1V249.1M493 197.1h6M493 249.1h6" stroke="#800080"/><path d="M483 146.0V199.2M480 146.0h6M480 199.2h6" stroke="#800080"/><path d="M489 181.1V215.6M486 181.1h6M486 215.6h6" stroke="#800080"/><path d="M494 131.2V182.5M491 131.2h6M491 182.5h6" stroke="#800080"/><path d="M487 122.5V178.9M484 122.5h6M484 178.9h6" stroke="#800080"/><path d="M500 197.4V230.0M497 197.4h6M497 230.0h6" stroke="#800080"/><path d="M499 131.0V172.5M496 131.0h6M496 172.5h6" stroke="#800080"/><path d="M481 168.5V204.2M478 168.5h6M478 204.2h6" stroke="#800080"/><path d="M484 170.1V226.6M481 170.1h6M481 226.6h6" stroke="#800080"/><path d="M499 81.9V145.8M496 81.9h6M496 145.8h6" stroke="#800080"/><path d="M501 106.1V130.9M498 106.1h6M498 130.9h6" stroke="#800080"/><path d="M503 179.1V220.7M500 179.1h6M500 220.7h6" stroke="#800080"/><path d="M488 204.2V269.4M485 204.2h6M485 269.4h6" stroke="#800080"/><path d="M500 161.9V194.1M497 161.9h6M497 194.1h6" stroke="#800080"/><path d="M534 157.7V210.2M531 157.7h6M531 210.2h6" stroke="#800080"/><path d="M518 134.3V160.9M515 134.3h6M515 160.9h6" stroke="#800080"/><path d="M512 131.4V155.3M509 131.4h6M509 155.3h6" stroke="#800080"/><path d="M518 121.3V165.8M515 121.3h6M515 165.8h6" stroke="#800080"/><path d="M529 122.5V175.8M526 122.5h6M526 175.8h6" stroke="#800080"/><path d="M516 153.2V192.2M513 153.2h6M513 192.2h6" stroke="#800080"/><path d="M515 78.6V122.2M512 78.6h6M512 122.2h6" stroke="#800080"/><path d="M519 144.9V172.4M516 144.9h6M516 172.4h6" stroke="#800080"/><path d="M530 95.1V118.3M527 95.1h6M527 118.3h6" stroke="#800080"/><path d="M514 128.5V178.8M511 128.5h6M511 178.8h6" stroke="#800080"/><path d="M514 98.2V148.2M511 98.2h6M511 148.2h6" stroke="#800080"/><path d="M508 151.5V201.6M505 151.5h6M505 201.6h6" stroke="#800080"/><path d="M522 158.8V205.2M519 158.8h6M519 205.2h6" stroke="#800080"/><path d="M535 75.2V112.8M532 75.2h6M532 112.8h6" stroke="#800080"/><path d="M526 157.5V215.6M523 157.5h6M523 215.6h6" stroke="#800080"/><path d="M536 138.2V177.2M533 138.2h6M533 177.2h6" stroke="#800080"/><path d="M511 83.4V125.2M508 83.4h6M508 125.2h6" stroke="#800080"/><path d="M534 93.4V119.4M531 93.4h6M531 119.4h6" stroke="#800080"/><path d="M522 158.4V193.7M519 158.4h6M519 193.7h6" stroke="#800080"/><path d="M519 95.1V159.1M516 95.1h6M516 159.1h6" stroke="#800080"/><path d="M526 103.1V156.7M523 103.1h6M523 156.7h6" stroke="#800080"/><path d="M512 103.1V144.4M509 103.1h6M509 144.4h6" stroke="#800080"/><path d="M522 161.2V188.9M519 161.2h6M519 188.9h6" stroke="#800080"/><path d="M522 157.4V190.5M519 157.4h6M519 190.5h6" stroke="#800080"/><path d="M522 129.5V162.2M519 129.5h6M519 162.2h6" stroke="#800080"/><path d="M519 154.8V179.7M516 154.8h6M516 179.7h6" stroke="#800080"/><path d="M509 171.2V201.6M506 171.2h6M506 201.6h6" stroke="#800080"/><path d="M519 120.5V148.4M516 120.5h6M516 148.4h6" stroke="#800080"/><path d="M526 121.6V164.1M523 121.6h6M523 164.1h6" stroke="#800080"/><path d="M533 62.9V122.4M530 62.9h6M530 122.4h6" stroke="#800080"/><path d="M529 135.1V177.4M526 135.1h6M526 177.4h6" stroke="#800080"/><path d="M516 96.2V151.6M513 96.2h6M513 151.6h6" stroke="#800080"/><path d="M518 156.2V195.8M515 156.2h6M515 195.8h6" stroke="#800080"/><path d="M514 87.2V119.8M511 87.2h6M511 119.8h6" stroke="#800080"/><path d="M521 84.2V122.3M518 84.2h6M518 122.3h6" stroke="#800080"/><path d="M519 162.0V196.0M516 162.0h6M516 196.0h6" stroke="#800080"/><path d="M535 134.6V160.6M532 134.6h6M532 160.6h6" stroke="#800080"/><path d="M516 84.4V136.7M513 84.4h6M513 136.7h6" stroke="#800080"/><path d="M517 148.9V183.4M514 148.9h6M514 183.4h6" stroke="#800080"/><path d="M525 71.7V131.9M522 71.7h6M522 131.9h6" stroke="#800080"/><path d="M522 49.0V109.0M519 49.0h6M519 109.0h6" stroke="#800080"/><path d="M526 44.0V116.0M523 44.0h6M523 116.0h6" stroke="#800080"/><path d="M533 43.0V122.0M530 43.0h6M530 122.0h6" stroke="#800080"/><path d="M506 83.0V153.0M503 83.0h6M503 153.0h6" stroke="#800080"/><path d="M490 122.0V170.0M487 122.0h6M487 170.0h6" stroke="#800080"/><path d="M498 120.0V170.0M495 120.0h6M495 170.0h6" stroke="#800080"/><path d="M515 108.0V155.0M512 108.0h6M512 155.0h6" stroke="#800080"/><path d="M473 310.0V369.0M470 310.0h6M470 369.0h6" stroke="#800080"/><path d="M474 300.0V361.0M471 300.0h6M471 361.0h6" stroke="#800080"/><path d="M470 300.0V349.0M467 300.0h6M467 349.0h6" stroke="#800080"/><path d="M462 280.0V328.0M459 280.0h6M459 328.0h6" stroke="#800080"/><path d="M528 180.0V249.0M525 180.0h6M525 249.0h6" stroke="#800080"/><path d="M531 180.0V239.0M528 180.0h6M528 239.0h6" stroke="#800080"/><path d="M517 200.0V248.0M514 200.0h6M514 248.0h6" stroke="#800080"/><path d="M486 210.0V288.0M483 210.0h6M483 288.0h6" stroke="#800080"/><path d="M493 250.0V322.0M490 250.0h6M490 322.0h6" stroke="#800080"/><path d="M499 260.0V309.0M496 260.0h6M496 309.0h6" stroke="#800080"/><path d="M502 250.0V304.0M499 250.0h6M499 304.0h6" stroke="#800080"/><path d="M464 211.0V280.0M461 211.0h6M461 280.0h6" stroke="#800080"/><path d="M473 203.0V270.0M470 203.0h6M470 270.0h6" stroke="#800080"/></g><path d="M460.5 300.9h9M465 296.4v9" stroke="#800080" stroke-width="1.9" fill="none"/><path d="M468.5 304.6h9M473 300.1v9" stroke="#800080" stroke-width="1.9" fill="none"/><path d="M458.5 272.9h9M463 268.4v9" stroke="#800080" stroke-width="1.9" fill="none"/><path d="M461.5 256.2h9M466 251.7v9" stroke="#800080" stroke-width="1.9" fill="none"/><path d="M469.5 284.6h9M474 280.1v9" stroke="#800080" stroke-width="1.9" fill="none"/><path d="M459.5 326.6h9M464 322.1v9" stroke="#800080" stroke-width="1.9" fill="none"/><path d="M459.5 324.4h9M464 319.9v9" stroke="#800080" stroke-width="1.9" fill="none"/><path d="M464.5 248.1h9M469 243.6v9" stroke="#800080" stroke-width="1.9" fill="none"/><path d="M467.5 246.5h9M472 242.0v9" stroke="#800080" stroke-width="1.9" fill="none"/><path d="M467.5 283.2h9M472 278.7v9" stroke="#800080" stroke-width="1.9" fill="none"/><path d="M468.5 244.6h9M473 240.1v9" stroke="#800080" stroke-width="1.9" fill="none"/><path d="M462.5 276.0h9M467 271.5v9" stroke="#800080" stroke-width="1.9" fill="none"/><path d="M458.5 246.8h9M463 242.3v9" stroke="#800080" stroke-width="1.9" fill="none"/><path d="M464.5 283.4h9M469 278.9v9" stroke="#800080" stroke-width="1.9" fill="none"/><path d="M465.5 289.4h9M470 284.9v9" stroke="#800080" stroke-width="1.9" fill="none"/><path d="M469.5 257.8h9M474 253.3v9" stroke="#800080" stroke-width="1.9" fill="none"/><path d="M459.5 313.6h9M464 309.1v9" stroke="#800080" stroke-width="1.9" fill="none"/><path d="M466.5 315.4h9M471 310.9v9" stroke="#800080" stroke-width="1.9" fill="none"/><path d="M470.5 281.1h9M475 276.6v9" stroke="#800080" stroke-width="1.9" fill="none"/><path d="M461.5 317.7h9M466 313.2v9" stroke="#800080" stroke-width="1.9" fill="none"/><path d="M467.5 273.6h9M472 269.1v9" stroke="#800080" stroke-width="1.9" fill="none"/><path d="M461.5 274.1h9M466 269.6v9" stroke="#800080" stroke-width="1.9" fill="none"/><path d="M469.5 321.2h9M474 316.7v9" stroke="#800080" stroke-width="1.9" fill="none"/><path d="M470.5 274.6h9M475 270.1v9" stroke="#800080" stroke-width="1.9" fill="none"/><path d="M468.5 303.4h9M473 298.9v9" stroke="#800080" stroke-width="1.9" fill="none"/><path d="M465.5 311.5h9M470 307.0v9" stroke="#800080" stroke-width="1.9" fill="none"/><path d="M467.5 227.0h9M472 222.5v9" stroke="#800080" stroke-width="1.9" fill="none"/><path d="M465.5 291.4h9M470 286.9v9" stroke="#800080" stroke-width="1.9" fill="none"/><path d="M463.5 323.8h9M468 319.3v9" stroke="#800080" stroke-width="1.9" fill="none"/><path d="M459.5 239.1h9M464 234.6v9" stroke="#800080" stroke-width="1.9" fill="none"/><path d="M466.5 239.7h9M471 235.2v9" stroke="#800080" stroke-width="1.9" fill="none"/><path d="M461.5 249.9h9M466 245.4v9" stroke="#800080" stroke-width="1.9" fill="none"/><path d="M465.5 233.2h9M470 228.7v9" stroke="#800080" stroke-width="1.9" fill="none"/><path d="M467.5 226.8h9M472 222.3v9" stroke="#800080" stroke-width="1.9" fill="none"/><path d="M460.5 302.9h9M465 298.4v9" stroke="#800080" stroke-width="1.9" fill="none"/><path d="M459.5 273.4h9M464 268.9v9" stroke="#800080" stroke-width="1.9" fill="none"/><path d="M464.5 283.3h9M469 278.8v9" stroke="#800080" stroke-width="1.9" fill="none"/><path d="M464.5 301.3h9M469 296.8v9" stroke="#800080" stroke-width="1.9" fill="none"/><path d="M464.5 284.4h9M469 279.9v9" stroke="#800080" stroke-width="1.9" fill="none"/><path d="M462.5 263.2h9M467 258.7v9" stroke="#800080" stroke-width="1.9" fill="none"/><path d="M459.5 313.6h9M464 309.1v9" stroke="#800080" stroke-width="1.9" fill="none"/><path d="M458.5 298.6h9M463 294.1v9" stroke="#800080" stroke-width="1.9" fill="none"/><path d="M463.5 253.1h9M468 248.6v9" stroke="#800080" stroke-width="1.9" fill="none"/><path d="M466.5 307.4h9M471 302.9v9" stroke="#800080" stroke-width="1.9" fill="none"/><path d="M468.5 225.7h9M473 221.2v9" stroke="#800080" stroke-width="1.9" fill="none"/><path d="M468.5 207.0h9M473 202.5v9" stroke="#800080" stroke-width="1.9" fill="none"/><path d="M469.5 222.9h9M474 218.4v9" stroke="#800080" stroke-width="1.9" fill="none"/><path d="M459.5 226.0h9M464 221.5v9" stroke="#800080" stroke-width="1.9" fill="none"/><path d="M462.5 234.1h9M467 229.6v9" stroke="#800080" stroke-width="1.9" fill="none"/><path d="M460.5 220.4h9M465 215.9v9" stroke="#800080" stroke-width="1.9" fill="none"/><path d="M471.5 225.0h9M476 220.5v9" stroke="#800080" stroke-width="1.9" fill="none"/><path d="M459.5 229.8h9M464 225.3v9" stroke="#800080" stroke-width="1.9" fill="none"/><path d="M471.5 208.5h9M476 204.0v9" stroke="#800080" stroke-width="1.9" fill="none"/><path d="M465.5 211.4h9M470 206.9v9" stroke="#800080" stroke-width="1.9" fill="none"/><path d="M499.5 116.6h9M504 112.1v9" stroke="#800080" stroke-width="1.9" fill="none"/><path d="M478.5 210.9h9M483 206.4v9" stroke="#800080" stroke-width="1.9" fill="none"/><path d="M499.5 135.4h9M504 130.9v9" stroke="#800080" stroke-width="1.9" fill="none"/><path d="M498.5 178.2h9M503 173.7v9" stroke="#800080" stroke-width="1.9" fill="none"/><path d="M483.5 151.2h9M488 146.7v9" stroke="#800080" stroke-width="1.9" fill="none"/><path d="M494.5 212.9h9M499 208.4v9" stroke="#800080" stroke-width="1.9" fill="none"/><path d="M481.5 238.3h9M486 233.8v9" stroke="#800080" stroke-width="1.9" fill="none"/><path d="M491.5 131.4h9M496 126.9v9" stroke="#800080" stroke-width="1.9" fill="none"/><path d="M476.5 201.6h9M481 197.1v9" stroke="#800080" stroke-width="1.9" fill="none"/><path d="M488.5 165.6h9M493 161.1v9" stroke="#800080" stroke-width="1.9" fill="none"/><path d="M484.5 191.8h9M489 187.3v9" stroke="#800080" stroke-width="1.9" fill="none"/><path d="M486.5 197.8h9M491 193.3v9" stroke="#800080" stroke-width="1.9" fill="none"/><path d="M484.5 175.5h9M489 171.0v9" stroke="#800080" stroke-width="1.9" fill="none"/><path d="M488.5 164.6h9M493 160.1v9" stroke="#800080" stroke-width="1.9" fill="none"/><path d="M489.5 157.2h9M494 152.7v9" stroke="#800080" stroke-width="1.9" fill="none"/><path d="M476.5 202.0h9M481 197.5v9" stroke="#800080" stroke-width="1.9" fill="none"/><path d="M492.5 120.0h9M497 115.5v9" stroke="#800080" stroke-width="1.9" fill="none"/><path d="M487.5 214.5h9M492 210.0v9" stroke="#800080" stroke-width="1.9" fill="none"/><path d="M500.5 178.1h9M505 173.6v9" stroke="#800080" stroke-width="1.9" fill="none"/><path d="M484.5 213.6h9M489 209.1v9" stroke="#800080" stroke-width="1.9" fill="none"/><path d="M475.5 200.0h9M480 195.5v9" stroke="#800080" stroke-width="1.9" fill="none"/><path d="M492.5 160.7h9M497 156.2v9" stroke="#800080" stroke-width="1.9" fill="none"/><path d="M484.5 141.6h9M489 137.1v9" stroke="#800080" stroke-width="1.9" fill="none"/><path d="M480.5 166.1h9M485 161.6v9" stroke="#800080" stroke-width="1.9" fill="none"/><path d="M484.5 208.3h9M489 203.8v9" stroke="#800080" stroke-width="1.9" fill="none"/><path d="M484.5 220.7h9M489 216.2v9" stroke="#800080" stroke-width="1.9" fill="none"/><path d="M485.5 208.0h9M490 203.5v9" stroke="#800080" stroke-width="1.9" fill="none"/><path d="M481.5 163.2h9M486 158.7v9" stroke="#800080" stroke-width="1.9" fill="none"/><path d="M497.5 173.6h9M502 169.1v9" stroke="#800080" stroke-width="1.9" fill="none"/><path d="M476.5 196.6h9M481 192.1v9" stroke="#800080" stroke-width="1.9" fill="none"/><path d="M491.5 221.5h9M496 217.0v9" stroke="#800080" stroke-width="1.9" fill="none"/><path d="M478.5 177.0h9M483 172.5v9" stroke="#800080" stroke-width="1.9" fill="none"/><path d="M484.5 198.1h9M489 193.6v9" stroke="#800080" stroke-width="1.9" fill="none"/><path d="M489.5 158.6h9M494 154.1v9" stroke="#800080" stroke-width="1.9" fill="none"/><path d="M482.5 149.7h9M487 145.2v9" stroke="#800080" stroke-width="1.9" fill="none"/><path d="M495.5 212.2h9M500 207.7v9" stroke="#800080" stroke-width="1.9" fill="none"/><path d="M494.5 151.9h9M499 147.4v9" stroke="#800080" stroke-width="1.9" fill="none"/><path d="M476.5 184.9h9M481 180.4v9" stroke="#800080" stroke-width="1.9" fill="none"/><path d="M479.5 198.7h9M484 194.2v9" stroke="#800080" stroke-width="1.9" fill="none"/><path d="M494.5 113.1h9M499 108.6v9" stroke="#800080" stroke-width="1.9" fill="none"/><path d="M496.5 117.6h9M501 113.1v9" stroke="#800080" stroke-width="1.9" fill="none"/><path d="M498.5 199.4h9M503 194.9v9" stroke="#800080" stroke-width="1.9" fill="none"/><path d="M483.5 235.8h9M488 231.3v9" stroke="#800080" stroke-width="1.9" fill="none"/><path d="M495.5 178.1h9M500 173.6v9" stroke="#800080" stroke-width="1.9" fill="none"/><path d="M529.5 181.1h9M534 176.6v9" stroke="#800080" stroke-width="1.9" fill="none"/><path d="M513.5 146.9h9M518 142.4v9" stroke="#800080" stroke-width="1.9" fill="none"/><path d="M507.5 141.8h9M512 137.3v9" stroke="#800080" stroke-width="1.9" fill="none"/><path d="M513.5 145.0h9M518 140.5v9" stroke="#800080" stroke-width="1.9" fill="none"/><path d="M524.5 147.5h9M529 143.0v9" stroke="#800080" stroke-width="1.9" fill="none"/><path d="M511.5 172.3h9M516 167.8v9" stroke="#800080" stroke-width="1.9" fill="none"/><path d="M510.5 100.9h9M515 96.4v9" stroke="#800080" stroke-width="1.9" fill="none"/><path d="M514.5 158.2h9M519 153.7v9" stroke="#800080" stroke-width="1.9" fill="none"/><path d="M525.5 106.9h9M530 102.4v9" stroke="#800080" stroke-width="1.9" fill="none"/><path d="M509.5 153.4h9M514 148.9v9" stroke="#800080" stroke-width="1.9" fill="none"/><path d="M509.5 124.7h9M514 120.2v9" stroke="#800080" stroke-width="1.9" fill="none"/><path d="M503.5 179.5h9M508 175.0v9" stroke="#800080" stroke-width="1.9" fill="none"/><path d="M517.5 185.5h9M522 181.0v9" stroke="#800080" stroke-width="1.9" fill="none"/><path d="M530.5 90.9h9M535 86.4v9" stroke="#800080" stroke-width="1.9" fill="none"/><path d="M521.5 188.7h9M526 184.2v9" stroke="#800080" stroke-width="1.9" fill="none"/><path d="M531.5 159.9h9M536 155.4v9" stroke="#800080" stroke-width="1.9" fill="none"/><path d="M506.5 101.3h9M511 96.8v9" stroke="#800080" stroke-width="1.9" fill="none"/><path d="M529.5 107.4h9M534 102.9v9" stroke="#800080" stroke-width="1.9" fill="none"/><path d="M517.5 174.5h9M522 170.0v9" stroke="#800080" stroke-width="1.9" fill="none"/><path d="M514.5 126.6h9M519 122.1v9" stroke="#800080" stroke-width="1.9" fill="none"/><path d="M521.5 130.8h9M526 126.3v9" stroke="#800080" stroke-width="1.9" fill="none"/><path d="M507.5 124.6h9M512 120.1v9" stroke="#800080" stroke-width="1.9" fill="none"/><path d="M517.5 175.9h9M522 171.4v9" stroke="#800080" stroke-width="1.9" fill="none"/><path d="M517.5 176.8h9M522 172.3v9" stroke="#800080" stroke-width="1.9" fill="none"/><path d="M517.5 146.1h9M522 141.6v9" stroke="#800080" stroke-width="1.9" fill="none"/><path d="M514.5 166.3h9M519 161.8v9" stroke="#800080" stroke-width="1.9" fill="none"/><path d="M504.5 188.0h9M509 183.5v9" stroke="#800080" stroke-width="1.9" fill="none"/><path d="M514.5 135.1h9M519 130.6v9" stroke="#800080" stroke-width="1.9" fill="none"/><path d="M521.5 143.9h9M526 139.4v9" stroke="#800080" stroke-width="1.9" fill="none"/><path d="M528.5 94.7h9M533 90.2v9" stroke="#800080" stroke-width="1.9" fill="none"/><path d="M524.5 156.1h9M529 151.6v9" stroke="#800080" stroke-width="1.9" fill="none"/><path d="M511.5 123.6h9M516 119.1v9" stroke="#800080" stroke-width="1.9" fill="none"/><path d="M513.5 177.2h9M518 172.7v9" stroke="#800080" stroke-width="1.9" fill="none"/><path d="M509.5 101.6h9M514 97.1v9" stroke="#800080" stroke-width="1.9" fill="none"/><path d="M516.5 101.4h9M521 96.9v9" stroke="#800080" stroke-width="1.9" fill="none"/><path d="M514.5 181.0h9M519 176.5v9" stroke="#800080" stroke-width="1.9" fill="none"/><path d="M530.5 148.9h9M535 144.4v9" stroke="#800080" stroke-width="1.9" fill="none"/><path d="M511.5 107.1h9M516 102.6v9" stroke="#800080" stroke-width="1.9" fill="none"/><path d="M512.5 163.2h9M517 158.7v9" stroke="#800080" stroke-width="1.9" fill="none"/><path d="M520.5 106.1h9M525 101.6v9" stroke="#800080" stroke-width="1.9" fill="none"/><path d="M517.5 89.0h9M522 84.5v9" stroke="#800080" stroke-width="1.9" fill="none"/><path d="M521.5 92.0h9M526 87.5v9" stroke="#800080" stroke-width="1.9" fill="none"/><path d="M528.5 102.0h9M533 97.5v9" stroke="#800080" stroke-width="1.9" fill="none"/><path d="M501.5 129.0h9M506 124.5v9" stroke="#800080" stroke-width="1.9" fill="none"/><path d="M485.5 140.0h9M490 135.5v9" stroke="#800080" stroke-width="1.9" fill="none"/><path d="M493.5 140.0h9M498 135.5v9" stroke="#800080" stroke-width="1.9" fill="none"/><path d="M510.5 125.0h9M515 120.5v9" stroke="#800080" stroke-width="1.9" fill="none"/><path d="M468.5 330.0h9M473 325.5v9" stroke="#800080" stroke-width="1.9" fill="none"/><path d="M469.5 320.0h9M474 315.5v9" stroke="#800080" stroke-width="1.9" fill="none"/><path d="M465.5 320.0h9M470 315.5v9" stroke="#800080" stroke-width="1.9" fill="none"/><path d="M457.5 300.0h9M462 295.5v9" stroke="#800080" stroke-width="1.9" fill="none"/><path d="M523.5 200.0h9M528 195.5v9" stroke="#800080" stroke-width="1.9" fill="none"/><path d="M526.5 200.0h9M531 195.5v9" stroke="#800080" stroke-width="1.9" fill="none"/><path d="M512.5 220.0h9M517 215.5v9" stroke="#800080" stroke-width="1.9" fill="none"/><path d="M481.5 240.0h9M486 235.5v9" stroke="#800080" stroke-width="1.9" fill="none"/><path d="M488.5 270.0h9M493 265.5v9" stroke="#800080" stroke-width="1.9" fill="none"/><path d="M494.5 280.0h9M499 275.5v9" stroke="#800080" stroke-width="1.9" fill="none"/><path d="M497.5 270.0h9M502 265.5v9" stroke="#800080" stroke-width="1.9" fill="none"/><path d="M459.5 240.0h9M464 235.5v9" stroke="#800080" stroke-width="1.9" fill="none"/><path d="M468.5 230.0h9M473 225.5v9" stroke="#800080" stroke-width="1.9" fill="none"/><rect x="531" y="106.0" width="12" height="12" fill="none" stroke="#800080" stroke-width="1" stroke-opacity="0.7"/><circle cx="460" cy="267.0" r="5.5" fill="none" stroke="#800080" stroke-width="1"/><g stroke-width="1.1" fill="none"><path d="M208 99.0V149.0M205 99.0h6M205 149.0h6" stroke="#000000"/><path d="M208 117.0V159.0M205 117.0h6M205 159.0h6" stroke="#000000"/><path d="M218 93.0V142.0M215 93.0h6M215 142.0h6" stroke="#000000"/><path d="M218 112.0V154.0M215 112.0h6M215 154.0h6" stroke="#000000"/><path d="M226 96.0V135.0M223 96.0h6M223 135.0h6" stroke="#000000"/><path d="M230 109.0V138.0M227 109.0h6M227 138.0h6" stroke="#000000"/><path d="M268 90.0V154.0M265 90.0h6M265 154.0h6" stroke="#000000"/><path d="M268 106.0V153.0M265 106.0h6M265 153.0h6" stroke="#000000"/><path d="M267 70.0V153.0M264 70.0h6M264 153.0h6" stroke="#000000"/><path d="M213 137.0V172.0M210 137.0h6M210 172.0h6" stroke="#000000"/><path d="M222 135.0V172.0M219 135.0h6M219 172.0h6" stroke="#000000"/><path d="M240 105.0V155.0M237 105.0h6M237 155.0h6" stroke="#000000"/><path d="M247 85.0V135.0M244 85.0h6M244 135.0h6" stroke="#000000"/><path d="M255 70.0V120.0M252 70.0h6M252 120.0h6" stroke="#000000"/><path d="M260 105.0V145.0M257 105.0h6M257 145.0h6" stroke="#000000"/><path d="M209 150.0V200.0M206 150.0h6M206 200.0h6" stroke="#000000"/><path d="M217 140.0V198.0M214 140.0h6M214 198.0h6" stroke="#000000"/><path d="M226 140.0V205.0M223 140.0h6M223 205.0h6" stroke="#000000"/><path d="M235 120.0V190.0M232 120.0h6M232 190.0h6" stroke="#000000"/><path d="M241 110.0V185.0M238 110.0h6M238 185.0h6" stroke="#000000"/><path d="M232 95.0V170.0M229 95.0h6M229 170.0h6" stroke="#000000"/></g><circle cx="208" cy="129.0" r="3.3" fill="#000000" stroke="#200000" stroke-width="0.6"/><circle cx="208" cy="139.0" r="3.3" fill="#000000" stroke="#200000" stroke-width="0.6"/><circle cx="218" cy="122.0" r="3.3" fill="#000000" stroke="#200000" stroke-width="0.6"/><circle cx="218" cy="134.0" r="3.3" fill="#000000" stroke="#200000" stroke-width="0.6"/><circle cx="226" cy="110.0" r="3.3" fill="#000000" stroke="#200000" stroke-width="0.6"/><circle cx="230" cy="113.0" r="3.3" fill="#000000" stroke="#200000" stroke-width="0.6"/><circle cx="268" cy="110.0" r="3.3" fill="#000000" stroke="#200000" stroke-width="0.6"/><circle cx="268" cy="126.0" r="3.3" fill="#000000" stroke="#200000" stroke-width="0.6"/><circle cx="267" cy="100.0" r="3.3" fill="#000000" stroke="#200000" stroke-width="0.6"/><circle cx="213" cy="152.0" r="3.3" fill="#000000" stroke="#200000" stroke-width="0.6"/><circle cx="222" cy="150.0" r="3.3" fill="#000000" stroke="#200000" stroke-width="0.6"/><circle cx="240" cy="125.0" r="3.3" fill="#000000" stroke="#200000" stroke-width="0.6"/><circle cx="247" cy="105.0" r="3.3" fill="#000000" stroke="#200000" stroke-width="0.6"/><circle cx="255" cy="90.0" r="3.3" fill="#000000" stroke="#200000" stroke-width="0.6"/><circle cx="260" cy="120.0" r="3.3" fill="#000000" stroke="#200000" stroke-width="0.6"/><g stroke-width="1.1" fill="none"><path d="M256 30.0V72.3M253 30.0h6M253 72.3h6" stroke="#800000"/><path d="M256 32.5V84.9M253 32.5h6M253 84.9h6" stroke="#800000"/><path d="M256 47.8V89.6M253 47.8h6M253 89.6h6" stroke="#800000"/><path d="M254 54.8V106.8M251 54.8h6M251 106.8h6" stroke="#800000"/><path d="M254 71.0V120.4M251 71.0h6M251 120.4h6" stroke="#800000"/><path d="M255 83.6V130.9M252 83.6h6M252 130.9h6" stroke="#800000"/><path d="M271 23.6V63.7M268 23.6h6M268 63.7h6" stroke="#800000"/><path d="M271 27.5V73.7M268 27.5h6M268 73.7h6" stroke="#800000"/><path d="M271 34.4V70.0M268 34.4h6M268 70.0h6" stroke="#800000"/><path d="M273 42.3V77.8M270 42.3h6M270 77.8h6" stroke="#800000"/><path d="M271 50.2V86.1M268 50.2h6M268 86.1h6" stroke="#800000"/><path d="M271 62.2V100.3M268 62.2h6M268 100.3h6" stroke="#800000"/><path d="M271 79.3V124.5M268 79.3h6M268 124.5h6" stroke="#800000"/><path d="M262 41.7V96.2M259 41.7h6M259 96.2h6" stroke="#800000"/><path d="M262 60.4V116.1M259 60.4h6M259 116.1h6" stroke="#800000"/><path d="M262 74.5V134.5M259 74.5h6M259 134.5h6" stroke="#800000"/><path d="M253 26.0V120.0M250 26.0h6M250 120.0h6" stroke="#800000"/><path d="M254 30.0V130.0M251 30.0h6M251 130.0h6" stroke="#800000"/><path d="M257 40.0V125.0M254 40.0h6M254 125.0h6" stroke="#800000"/><path d="M260 34.0V140.0M257 34.0h6M257 140.0h6" stroke="#800000"/><path d="M263 60.0V145.0M260 60.0h6M260 145.0h6" stroke="#800000"/><path d="M265 70.0V135.0M262 70.0h6M262 135.0h6" stroke="#800000"/><path d="M258 50.0V130.0M255 50.0h6M255 130.0h6" stroke="#800000"/><path d="M270 25.0V110.0M267 25.0h6M267 110.0h6" stroke="#800000"/><path d="M271 28.0V120.0M268 28.0h6M268 120.0h6" stroke="#800000"/><path d="M274 26.0V100.0M271 26.0h6M271 100.0h6" stroke="#800000"/><path d="M275 30.0V115.0M272 30.0h6M272 115.0h6" stroke="#800000"/><path d="M273 45.0V125.0M270 45.0h6M270 125.0h6" stroke="#800000"/><path d="M276 40.0V110.0M273 40.0h6M273 110.0h6" stroke="#800000"/><path d="M269 40.0V118.0M266 40.0h6M266 118.0h6" stroke="#800000"/><path d="M272 35.0V128.0M269 35.0h6M269 128.0h6" stroke="#800000"/><path d="M256 30.0V118.0M253 30.0h6M253 118.0h6" stroke="#800000"/><path d="M255 45.0V135.0M252 45.0h6M252 135.0h6" stroke="#800000"/></g><circle cx="256" cy="50.0" r="3.3" fill="#800000" stroke="#200000" stroke-width="0.6"/><circle cx="256" cy="58.0" r="3.3" fill="#800000" stroke="#200000" stroke-width="0.6"/><circle cx="256" cy="66.0" r="3.3" fill="#800000" stroke="#200000" stroke-width="0.6"/><circle cx="254" cy="78.0" r="3.3" fill="#800000" stroke="#200000" stroke-width="0.6"/><circle cx="254" cy="92.0" r="3.3" fill="#800000" stroke="#200000" stroke-width="0.6"/><circle cx="255" cy="106.0" r="3.3" fill="#800000" stroke="#200000" stroke-width="0.6"/><circle cx="271" cy="42.0" r="3.3" fill="#800000" stroke="#200000" stroke-width="0.6"/><circle cx="271" cy="47.0" r="3.3" fill="#800000" stroke="#200000" stroke-width="0.6"/><circle cx="271" cy="53.0" r="3.3" fill="#800000" stroke="#200000" stroke-width="0.6"/><circle cx="273" cy="60.0" r="3.3" fill="#800000" stroke="#200000" stroke-width="0.6"/><circle cx="271" cy="70.0" r="3.3" fill="#800000" stroke="#200000" stroke-width="0.6"/><circle cx="271" cy="82.0" r="3.3" fill="#800000" stroke="#200000" stroke-width="0.6"/><circle cx="271" cy="95.0" r="3.3" fill="#800000" stroke="#200000" stroke-width="0.6"/><circle cx="262" cy="66.0" r="3.3" fill="#800000" stroke="#200000" stroke-width="0.6"/><circle cx="262" cy="82.0" r="3.3" fill="#800000" stroke="#200000" stroke-width="0.6"/><circle cx="262" cy="100.0" r="3.3" fill="#800000" stroke="#200000" stroke-width="0.6"/><rect x="271" y="43.0" width="12" height="12" fill="none" stroke="#800000" stroke-width="1" stroke-opacity="0.7"/><rect x="266" y="86.0" width="12" height="12" fill="none" stroke="#800000" stroke-width="1" stroke-opacity="0.7"/><path d="M133 142.5h8l-4 7z" fill="#0000ff" stroke="#000040" stroke-width="0.6"/><path d="M132 147.5h8l-4 7z" fill="#0000ff" stroke="#000040" stroke-width="0.6"/><path d="M133 152.5h8l-4 7z" fill="#0000ff" stroke="#000040" stroke-width="0.6"/><path d="M134 157.5h8l-4 7z" fill="#0000ff" stroke="#000040" stroke-width="0.6"/><path d="M133 162.5h8l-4 7z" fill="#0000ff" stroke="#000040" stroke-width="0.6"/><path d="M134 167.5h8l-4 7z" fill="#0000ff" stroke="#000040" stroke-width="0.6"/><path d="M133 172.5h8l-4 7z" fill="#0000ff" stroke="#000040" stroke-width="0.6"/><path d="M132 177.5h8l-4 7z" fill="#0000ff" stroke="#000040" stroke-width="0.6"/><path d="M134 182.5h8l-4 7z" fill="#0000ff" stroke="#000040" stroke-width="0.6"/><path d="M134 187.5h8l-4 7z" fill="#0000ff" stroke="#000040" stroke-width="0.6"/><path d="M133 192.5h8l-4 7z" fill="#0000ff" stroke="#000040" stroke-width="0.6"/><path d="M132 197.5h8l-4 7z" fill="#0000ff" stroke="#000040" stroke-width="0.6"/><path d="M134 202.5h8l-4 7z" fill="#0000ff" stroke="#000040" stroke-width="0.6"/><path d="M132 207.5h8l-4 7z" fill="#0000ff" stroke="#000040" stroke-width="0.6"/><path d="M133 212.5h8l-4 7z" fill="#0000ff" stroke="#000040" stroke-width="0.6"/><path d="M134 217.5h8l-4 7z" fill="#0000ff" stroke="#000040" stroke-width="0.6"/><path d="M134 222.5h8l-4 7z" fill="#0000ff" stroke="#000040" stroke-width="0.6"/><path d="M134 227.5h8l-4 7z" fill="#0000ff" stroke="#000040" stroke-width="0.6"/><path d="M140 158.5h8l-4 7z" fill="#0000ff" stroke="#000040" stroke-width="0.6"/><path d="M141 163.5h8l-4 7z" fill="#0000ff" stroke="#000040" stroke-width="0.6"/><path d="M140 168.5h8l-4 7z" fill="#0000ff" stroke="#000040" stroke-width="0.6"/><path d="M141 173.5h8l-4 7z" fill="#0000ff" stroke="#000040" stroke-width="0.6"/><path d="M140 178.5h8l-4 7z" fill="#0000ff" stroke="#000040" stroke-width="0.6"/><path d="M142 183.5h8l-4 7z" fill="#0000ff" stroke="#000040" stroke-width="0.6"/><path d="M141 188.5h8l-4 7z" fill="#0000ff" stroke="#000040" stroke-width="0.6"/><path d="M142 193.5h8l-4 7z" fill="#0000ff" stroke="#000040" stroke-width="0.6"/><path d="M142 198.5h8l-4 7z" fill="#0000ff" stroke="#000040" stroke-width="0.6"/><path d="M142 203.5h8l-4 7z" fill="#0000ff" stroke="#000040" stroke-width="0.6"/><path d="M140 208.5h8l-4 7z" fill="#0000ff" stroke="#000040" stroke-width="0.6"/><path d="M140 213.5h8l-4 7z" fill="#0000ff" stroke="#000040" stroke-width="0.6"/><path d="M140 218.5h8l-4 7z" fill="#0000ff" stroke="#000040" stroke-width="0.6"/><path d="M141 223.5h8l-4 7z" fill="#0000ff" stroke="#000040" stroke-width="0.6"/><path d="M140 228.5h8l-4 7z" fill="#0000ff" stroke="#000040" stroke-width="0.6"/><path d="M148 166.5h8l-4 7z" fill="#0000ff" stroke="#000040" stroke-width="0.6"/><path d="M148 173.5h8l-4 7z" fill="#0000ff" stroke="#000040" stroke-width="0.6"/><path d="M147 180.5h8l-4 7z" fill="#0000ff" stroke="#000040" stroke-width="0.6"/><path d="M147 187.5h8l-4 7z" fill="#0000ff" stroke="#000040" stroke-width="0.6"/><path d="M148 194.5h8l-4 7z" fill="#0000ff" stroke="#000040" stroke-width="0.6"/><path d="M147 201.5h8l-4 7z" fill="#0000ff" stroke="#000040" stroke-width="0.6"/><path d="M147 208.5h8l-4 7z" fill="#0000ff" stroke="#000040" stroke-width="0.6"/><path d="M146 215.5h8l-4 7z" fill="#0000ff" stroke="#000040" stroke-width="0.6"/><path d="M148 222.5h8l-4 7z" fill="#0000ff" stroke="#000040" stroke-width="0.6"/><path d="M155 162.5h8l-4 7z" fill="#0000ff" stroke="#000040" stroke-width="0.6"/><path d="M154 167.5h8l-4 7z" fill="#0000ff" stroke="#000040" stroke-width="0.6"/><path d="M154 172.5h8l-4 7z" fill="#0000ff" stroke="#000040" stroke-width="0.6"/><path d="M153 177.5h8l-4 7z" fill="#0000ff" stroke="#000040" stroke-width="0.6"/><path d="M154 182.5h8l-4 7z" fill="#0000ff" stroke="#000040" stroke-width="0.6"/><path d="M154 187.5h8l-4 7z" fill="#0000ff" stroke="#000040" stroke-width="0.6"/><path d="M155 192.5h8l-4 7z" fill="#0000ff" stroke="#000040" stroke-width="0.6"/><path d="M154 197.5h8l-4 7z" fill="#0000ff" stroke="#000040" stroke-width="0.6"/><path d="M155 202.5h8l-4 7z" fill="#0000ff" stroke="#000040" stroke-width="0.6"/><path d="M154 207.5h8l-4 7z" fill="#0000ff" stroke="#000040" stroke-width="0.6"/><path d="M153 212.5h8l-4 7z" fill="#0000ff" stroke="#000040" stroke-width="0.6"/><path d="M153 217.5h8l-4 7z" fill="#0000ff" stroke="#000040" stroke-width="0.6"/><path d="M155 222.5h8l-4 7z" fill="#0000ff" stroke="#000040" stroke-width="0.6"/><path d="M155 227.5h8l-4 7z" fill="#0000ff" stroke="#000040" stroke-width="0.6"/><path d="M160 162.5h8l-4 7z" fill="#0000ff" stroke="#000040" stroke-width="0.6"/><path d="M161 200.5h8l-4 7z" fill="#0000ff" stroke="#000040" stroke-width="0.6"/><path d="M185 161.5h8l-4 7z" fill="#0000ff" stroke="#000040" stroke-width="0.6"/><path d="M127 211.5h8l-4 7z" fill="#0000ff" stroke="#000040" stroke-width="0.6"/><path d="M142 232.5h8l-4 7z" fill="#0000ff" stroke="#000040" stroke-width="0.6"/><path d="M149 228.5h8l-4 7z" fill="#0000ff" stroke="#000040" stroke-width="0.6"/><path d="M136 224.5h8l-4 7z" fill="#0000ff" stroke="#000040" stroke-width="0.6"/><path d="M144 238.5h8l-4 7z" fill="#0000ff" stroke="#000040" stroke-width="0.6"/><path d="M130 186.5h8l-4 7z" fill="#0000ff" stroke="#000040" stroke-width="0.6"/><path d="M137 196.5h8l-4 7z" fill="#0000ff" stroke="#000040" stroke-width="0.6"/><path d="M152 206.5h8l-4 7z" fill="#0000ff" stroke="#000040" stroke-width="0.6"/><path d="M156 186.5h8l-4 7z" fill="#0000ff" stroke="#000040" stroke-width="0.6"/><path d="M148 222.5h8l-4 7z" fill="#0000ff" stroke="#000040" stroke-width="0.6"/><path d="M140 236.5h8l-4 7z" fill="#0000ff" stroke="#000040" stroke-width="0.6"/><path d="M170 176.5h8l-4 7z" fill="#0000ff" stroke="#000040" stroke-width="0.6"/><path d="M172 186.5h8l-4 7z" fill="#0000ff" stroke="#000040" stroke-width="0.6"/><path d="M170 196.5h8l-4 7z" fill="#0000ff" stroke="#000040" stroke-width="0.6"/><path d="M169 206.5h8l-4 7z" fill="#0000ff" stroke="#000040" stroke-width="0.6"/><path d="M169 216.5h8l-4 7z" fill="#0000ff" stroke="#000040" stroke-width="0.6"/><path d="M171 224.5h8l-4 7z" fill="#0000ff" stroke="#000040" stroke-width="0.6"/><path d="M172 230.5h8l-4 7z" fill="#0000ff" stroke="#000040" stroke-width="0.6"/><path d="M182 164.5h8l-4 7z" fill="#0000ff" stroke="#000040" stroke-width="0.6"/><path d="M178 172.5h8l-4 7z" fill="#0000ff" stroke="#000040" stroke-width="0.6"/><path d="M178 182.5h8l-4 7z" fill="#0000ff" stroke="#000040" stroke-width="0.6"/><path d="M181 192.5h8l-4 7z" fill="#0000ff" stroke="#000040" stroke-width="0.6"/><path d="M182 204.5h8l-4 7z" fill="#0000ff" stroke="#000040" stroke-width="0.6"/><path d="M178 216.5h8l-4 7z" fill="#0000ff" stroke="#000040" stroke-width="0.6"/><path d="M181 226.5h8l-4 7z" fill="#0000ff" stroke="#000040" stroke-width="0.6"/><circle cx="130" cy="204.0" r="5.5" fill="none" stroke="#0000ff" stroke-width="1"/><rect x="185" y="160.0" width="12" height="12" fill="none" stroke="#0000ff" stroke-width="1" stroke-opacity="0.7"/><path d="M597 146.5h8l-4 7z" fill="#0000ff" stroke="#000040" stroke-width="0.6"/><path d="M597 149.5h8l-4 7z" fill="#0000ff" stroke="#000040" stroke-width="0.6"/><path d="M598 152.5h8l-4 7z" fill="#0000ff" stroke="#000040" stroke-width="0.6"/><path d="M597 155.5h8l-4 7z" fill="#0000ff" stroke="#000040" stroke-width="0.6"/><path d="M597 158.5h8l-4 7z" fill="#0000ff" stroke="#000040" stroke-width="0.6"/><path d="M598 161.5h8l-4 7z" fill="#0000ff" stroke="#000040" stroke-width="0.6"/><path d="M597 164.5h8l-4 7z" fill="#0000ff" stroke="#000040" stroke-width="0.6"/><path d="M597 167.5h8l-4 7z" fill="#0000ff" stroke="#000040" stroke-width="0.6"/><path d="M598 170.5h8l-4 7z" fill="#0000ff" stroke="#000040" stroke-width="0.6"/><path d="M597 173.5h8l-4 7z" fill="#0000ff" stroke="#000040" stroke-width="0.6"/><path d="M597 176.5h8l-4 7z" fill="#0000ff" stroke="#000040" stroke-width="0.6"/><path d="M598 179.5h8l-4 7z" fill="#0000ff" stroke="#000040" stroke-width="0.6"/><path d="M597 182.5h8l-4 7z" fill="#0000ff" stroke="#000040" stroke-width="0.6"/><path d="M597 185.5h8l-4 7z" fill="#0000ff" stroke="#000040" stroke-width="0.6"/><path d="M598 188.5h8l-4 7z" fill="#0000ff" stroke="#000040" stroke-width="0.6"/><path d="M597 191.5h8l-4 7z" fill="#0000ff" stroke="#000040" stroke-width="0.6"/><path d="M597 194.5h8l-4 7z" fill="#0000ff" stroke="#000040" stroke-width="0.6"/><path d="M599 200.5h8l-4 7z" fill="#0000ff" stroke="#000040" stroke-width="0.6"/><path d="M600 205.5h8l-4 7z" fill="#0000ff" stroke="#000040" stroke-width="0.6"/><path d="M598 210.5h8l-4 7z" fill="#0000ff" stroke="#000040" stroke-width="0.6"/><path d="M601 215.5h8l-4 7z" fill="#0000ff" stroke="#000040" stroke-width="0.6"/><path d="M599 220.5h8l-4 7z" fill="#0000ff" stroke="#000040" stroke-width="0.6"/><path d="M600 225.5h8l-4 7z" fill="#0000ff" stroke="#000040" stroke-width="0.6"/><path d="M598 230.5h8l-4 7z" fill="#0000ff" stroke="#000040" stroke-width="0.6"/><path d="M598 200.5h8l-4 7z" fill="#0000ff" stroke="#000040" stroke-width="0.6"/><path d="M601 206.5h8l-4 7z" fill="#0000ff" stroke="#000040" stroke-width="0.6"/><path d="M600 227.5h8l-4 7z" fill="#0000ff" stroke="#000040" stroke-width="0.6"/><path d="M594 221.5h8l-4 7z" fill="#0000ff" stroke="#000040" stroke-width="0.6"/><path d="M602 176.5h8l-4 7z" fill="#0000ff" stroke="#000040" stroke-width="0.6"/><path d="M604 191.5h8l-4 7z" fill="#0000ff" stroke="#000040" stroke-width="0.6"/><g stroke-width="1.1" fill="none"><path d="M137 128.2V177.2M134 128.2h6M134 177.2h6" stroke="#0000ff"/><path d="M136 134.5V185.7M133 134.5h6M133 185.7h6" stroke="#0000ff"/><path d="M137 134.7V185.7M134 134.7h6M134 185.7h6" stroke="#0000ff"/><path d="M138 141.6V199.6M135 141.6h6M135 199.6h6" stroke="#0000ff"/><path d="M137 150.0V199.9M134 150.0h6M134 199.9h6" stroke="#0000ff"/><path d="M138 154.8V208.8M135 154.8h6M135 208.8h6" stroke="#0000ff"/><path d="M137 153.8V213.0M134 153.8h6M134 213.0h6" stroke="#0000ff"/><path d="M136 165.5V213.5M133 165.5h6M133 213.5h6" stroke="#0000ff"/><path d="M138 168.6V224.8M135 168.6h6M135 224.8h6" stroke="#0000ff"/><path d="M138 170.2V210.9M135 170.2h6M135 210.9h6" stroke="#0000ff"/><path d="M137 178.0V219.9M134 178.0h6M134 219.9h6" stroke="#0000ff"/><path d="M136 182.7V227.0M133 182.7h6M133 227.0h6" stroke="#0000ff"/><path d="M138 191.2V235.4M135 191.2h6M135 235.4h6" stroke="#0000ff"/><path d="M136 190.9V250.5M133 190.9h6M133 250.5h6" stroke="#0000ff"/><path d="M137 200.7V255.0M134 200.7h6M134 255.0h6" stroke="#0000ff"/><path d="M138 205.4V256.4M135 205.4h6M135 256.4h6" stroke="#0000ff"/><path d="M138 202.8V247.9M135 202.8h6M135 247.9h6" stroke="#0000ff"/><path d="M138 210.4V249.8M135 210.4h6M135 249.8h6" stroke="#0000ff"/><path d="M144 146.3V195.0M141 146.3h6M141 195.0h6" stroke="#0000ff"/><path d="M145 152.2V194.4M142 152.2h6M142 194.4h6" stroke="#0000ff"/><path d="M144 156.6V203.6M141 156.6h6M141 203.6h6" stroke="#0000ff"/><path d="M145 159.7V206.5M142 159.7h6M142 206.5h6" stroke="#0000ff"/><path d="M144 159.0V221.4M141 159.0h6M141 221.4h6" stroke="#0000ff"/><path d="M146 170.9V210.7M143 170.9h6M143 210.7h6" stroke="#0000ff"/><path d="M145 169.7V212.8M142 169.7h6M142 212.8h6" stroke="#0000ff"/><path d="M146 178.2V216.2M143 178.2h6M143 216.2h6" stroke="#0000ff"/><path d="M146 179.4V233.2M143 179.4h6M143 233.2h6" stroke="#0000ff"/><path d="M146 191.5V245.7M143 191.5h6M143 245.7h6" stroke="#0000ff"/><path d="M144 197.0V233.2M141 197.0h6M141 233.2h6" stroke="#0000ff"/><path d="M144 193.1V244.0M141 193.1h6M141 244.0h6" stroke="#0000ff"/><path d="M144 199.2V247.0M141 199.2h6M141 247.0h6" stroke="#0000ff"/><path d="M145 205.0V263.6M142 205.0h6M142 263.6h6" stroke="#0000ff"/><path d="M144 209.4V258.0M141 209.4h6M141 258.0h6" stroke="#0000ff"/><path d="M152 155.3V194.3M149 155.3h6M149 194.3h6" stroke="#0000ff"/><path d="M152 154.7V202.4M149 154.7h6M149 202.4h6" stroke="#0000ff"/><path d="M151 166.0V220.1M148 166.0h6M148 220.1h6" stroke="#0000ff"/><path d="M151 173.1V226.9M148 173.1h6M148 226.9h6" stroke="#0000ff"/><path d="M152 183.1V235.4M149 183.1h6M149 235.4h6" stroke="#0000ff"/><path d="M151 183.8V231.8M148 183.8h6M148 231.8h6" stroke="#0000ff"/><path d="M151 195.7V248.8M148 195.7h6M148 248.8h6" stroke="#0000ff"/><path d="M150 198.5V243.8M147 198.5h6M147 243.8h6" stroke="#0000ff"/><path d="M152 204.8V248.8M149 204.8h6M149 248.8h6" stroke="#0000ff"/><path d="M159 145.3V189.5M156 145.3h6M156 189.5h6" stroke="#0000ff"/><path d="M158 152.6V210.1M155 152.6h6M155 210.1h6" stroke="#0000ff"/><path d="M158 157.8V214.0M155 157.8h6M155 214.0h6" stroke="#0000ff"/><path d="M157 162.0V219.0M154 162.0h6M154 219.0h6" stroke="#0000ff"/><path d="M158 164.1V215.7M155 164.1h6M155 215.7h6" stroke="#0000ff"/><path d="M158 172.7V215.4M155 172.7h6M155 215.4h6" stroke="#0000ff"/><path d="M159 173.7V217.5M156 173.7h6M156 217.5h6" stroke="#0000ff"/><path d="M158 180.2V232.3M155 180.2h6M155 232.3h6" stroke="#0000ff"/><path d="M159 185.3V233.7M156 185.3h6M156 233.7h6" stroke="#0000ff"/><path d="M158 193.6V233.3M155 193.6h6M155 233.3h6" stroke="#0000ff"/><path d="M157 195.3V249.3M154 195.3h6M154 249.3h6" stroke="#0000ff"/><path d="M157 198.1V253.7M154 198.1h6M154 253.7h6" stroke="#0000ff"/><path d="M159 209.4V253.2M156 209.4h6M156 253.2h6" stroke="#0000ff"/><path d="M159 214.7V267.9M156 214.7h6M156 267.9h6" stroke="#0000ff"/><path d="M164 136.0V194.0M161 136.0h6M161 194.0h6" stroke="#0000ff"/><path d="M165 184.0V234.0M162 184.0h6M162 234.0h6" stroke="#0000ff"/><path d="M189 129.0V185.0M186 129.0h6M186 185.0h6" stroke="#0000ff"/><path d="M131 195.0V242.0M128 195.0h6M128 242.0h6" stroke="#0000ff"/><path d="M146 216.0V266.0M143 216.0h6M143 266.0h6" stroke="#0000ff"/><path d="M153 214.0V254.0M150 214.0h6M150 254.0h6" stroke="#0000ff"/><path d="M140 210.0V270.0M137 210.0h6M137 270.0h6" stroke="#0000ff"/><path d="M148 232.0V262.0M145 232.0h6M145 262.0h6" stroke="#0000ff"/><path d="M134 170.0V230.0M131 170.0h6M131 230.0h6" stroke="#0000ff"/><path d="M141 178.0V250.0M138 178.0h6M138 250.0h6" stroke="#0000ff"/><path d="M156 190.0V250.0M153 190.0h6M153 250.0h6" stroke="#0000ff"/><path d="M160 165.0V240.0M157 165.0h6M157 240.0h6" stroke="#0000ff"/><path d="M152 206.0V266.0M149 206.0h6M149 266.0h6" stroke="#0000ff"/><path d="M144 222.0V260.0M141 222.0h6M141 260.0h6" stroke="#0000ff"/><path d="M174 153.4V198.1M171 153.4h6M171 198.1h6" stroke="#0000ff"/><path d="M176 164.7V208.0M173 164.7h6M173 208.0h6" stroke="#0000ff"/><path d="M174 170.5V235.6M171 170.5h6M171 235.6h6" stroke="#0000ff"/><path d="M173 184.9V242.5M170 184.9h6M170 242.5h6" stroke="#0000ff"/><path d="M173 197.4V253.3M170 197.4h6M170 253.3h6" stroke="#0000ff"/><path d="M175 203.3V255.6M172 203.3h6M172 255.6h6" stroke="#0000ff"/><path d="M176 206.3V266.9M173 206.3h6M173 266.9h6" stroke="#0000ff"/><path d="M186 136.8V186.8M183 136.8h6M183 186.8h6" stroke="#0000ff"/><path d="M182 142.0V203.3M179 142.0h6M179 203.3h6" stroke="#0000ff"/><path d="M182 157.0V215.5M179 157.0h6M179 215.5h6" stroke="#0000ff"/><path d="M185 170.4V225.6M182 170.4h6M182 225.6h6" stroke="#0000ff"/><path d="M186 179.1V226.7M183 179.1h6M183 226.7h6" stroke="#0000ff"/><path d="M182 186.1V247.1M179 186.1h6M179 247.1h6" stroke="#0000ff"/><path d="M185 198.5V249.7M182 198.5h6M182 249.7h6" stroke="#0000ff"/><path d="M601 140.0V164.0M598 140.0h6M598 164.0h6" stroke="#0000ff"/><path d="M601 143.0V167.0M598 143.0h6M598 167.0h6" stroke="#0000ff"/><path d="M602 146.0V170.0M599 146.0h6M599 170.0h6" stroke="#0000ff"/><path d="M601 149.0V173.0M598 149.0h6M598 173.0h6" stroke="#0000ff"/><path d="M601 152.0V176.0M598 152.0h6M598 176.0h6" stroke="#0000ff"/><path d="M602 155.0V179.0M599 155.0h6M599 179.0h6" stroke="#0000ff"/><path d="M601 158.0V182.0M598 158.0h6M598 182.0h6" stroke="#0000ff"/><path d="M601 161.0V185.0M598 161.0h6M598 185.0h6" stroke="#0000ff"/><path d="M602 164.0V188.0M599 164.0h6M599 188.0h6" stroke="#0000ff"/><path d="M601 167.0V191.0M598 167.0h6M598 191.0h6" stroke="#0000ff"/><path d="M601 170.0V194.0M598 170.0h6M598 194.0h6" stroke="#0000ff"/><path d="M602 173.0V197.0M599 173.0h6M599 197.0h6" stroke="#0000ff"/><path d="M601 176.0V200.0M598 176.0h6M598 200.0h6" stroke="#0000ff"/><path d="M601 179.0V203.0M598 179.0h6M598 203.0h6" stroke="#0000ff"/><path d="M602 182.0V206.0M599 182.0h6M599 206.0h6" stroke="#0000ff"/><path d="M601 185.0V209.0M598 185.0h6M598 209.0h6" stroke="#0000ff"/><path d="M601 188.0V212.0M598 188.0h6M598 212.0h6" stroke="#0000ff"/><path d="M603 192.0V220.0M600 192.0h6M600 220.0h6" stroke="#0000ff"/><path d="M604 197.0V225.0M601 197.0h6M601 225.0h6" stroke="#0000ff"/><path d="M602 202.0V230.0M599 202.0h6M599 230.0h6" stroke="#0000ff"/><path d="M605 207.0V235.0M602 207.0h6M602 235.0h6" stroke="#0000ff"/><path d="M603 212.0V240.0M600 212.0h6M600 240.0h6" stroke="#0000ff"/><path d="M604 217.0V245.0M601 217.0h6M601 245.0h6" stroke="#0000ff"/><path d="M602 222.0V250.0M599 222.0h6M599 250.0h6" stroke="#0000ff"/><path d="M602 184.0V250.0M599 184.0h6M599 250.0h6" stroke="#0000ff"/><path d="M605 190.0V250.0M602 190.0h6M602 250.0h6" stroke="#0000ff"/><path d="M604 211.0V250.0M601 211.0h6M601 250.0h6" stroke="#0000ff"/><path d="M598 210.0V242.0M595 210.0h6M595 242.0h6" stroke="#0000ff"/><path d="M606 168.0V200.0M603 168.0h6M603 200.0h6" stroke="#0000ff"/><path d="M608 181.0V215.0M605 181.0h6M605 215.0h6" stroke="#0000ff"/></g><path d="M330.0 132.5 L332.0 138.1 L334.0 143.8 L336.0 149.4 L338.0 155.0 L340.0 160.6 L342.0 166.1 L344.0 171.5 L346.0 176.8 L348.0 182.0 L350.0 187.1 L352.0 192.1 L354.0 196.9 L356.0 201.5 L358.0 206.0 L360.0 210.4 L362.0 214.5 L364.0 218.5 L366.0 222.4 L368.0 226.0 L370.0 229.5 L372.0 232.9 L374.0 236.1 L376.0 239.1 L378.0 242.0 L380.0 244.8 L382.0 247.5 L384.0 250.0 L386.0 252.5 L388.0 254.8 L390.0 257.0 L392.0 259.2 L394.0 261.3 L396.0 263.3" fill="none" stroke="#000" stroke-width="2.4" stroke-linejoin="round"/>
</g>
<path d="M69 34.5h7M635 34.5h-7M69 63.2h7M635 63.2h-7M69 91.9h7M635 91.9h-7M69 120.5h7M635 120.5h-7M69 149.2h7M635 149.2h-7M69 177.9h7M635 177.9h-7M69 206.6h7M635 206.6h-7M69 235.3h7M635 235.3h-7M69 263.9h7M635 263.9h-7M69 292.6h7M635 292.6h-7M69 321.3h7M635 321.3h-7M69 350.0h7M635 350.0h-7M69 378.7h7M635 378.7h-7M120.0 411v-7M120.0 6v7M166.4 411v-7M166.4 6v7M212.8 411v-7M212.8 6v7M259.2 411v-7M259.2 6v7M305.6 411v-7M305.6 6v7M352.0 411v-7M352.0 6v7M398.4 411v-7M398.4 6v7M444.8 411v-7M444.8 6v7M491.2 411v-7M491.2 6v7M537.6 411v-7M537.6 6v7M584.0 411v-7M584.0 6v7" stroke="#555" stroke-width="1.1" fill="none"/>
<path d="M68.7 5.5H635.3V411.6H68.7Z" fill="none" stroke="#000" stroke-width="1.7"/>
<g font-size="16"><text x="64.6" y="40.2" text-anchor="end" textLength="40.2" lengthAdjust="spacingAndGlyphs">15.85</text><text x="64.6" y="68.9" text-anchor="end" textLength="40.2" lengthAdjust="spacingAndGlyphs">15.90</text><text x="64.6" y="97.6" text-anchor="end" textLength="40.2" lengthAdjust="spacingAndGlyphs">15.95</text><text x="64.6" y="126.2" text-anchor="end" textLength="40.2" lengthAdjust="spacingAndGlyphs">16.00</text><text x="64.6" y="154.9" text-anchor="end" textLength="40.2" lengthAdjust="spacingAndGlyphs">16.05</text><text x="64.6" y="183.6" text-anchor="end" textLength="40.2" lengthAdjust="spacingAndGlyphs">16.10</text><text x="64.6" y="212.3" text-anchor="end" textLength="40.2" lengthAdjust="spacingAndGlyphs">16.15</text><text x="64.6" y="241.0" text-anchor="end" textLength="40.2" lengthAdjust="spacingAndGlyphs">16.20</text><text x="64.6" y="269.6" text-anchor="end" textLength="40.2" lengthAdjust="spacingAndGlyphs">16.25</text><text x="64.6" y="298.3" text-anchor="end" textLength="40.2" lengthAdjust="spacingAndGlyphs">16.30</text><text x="64.6" y="327.0" text-anchor="end" textLength="40.2" lengthAdjust="spacingAndGlyphs">16.35</text><text x="64.6" y="355.7" text-anchor="end" textLength="40.2" lengthAdjust="spacingAndGlyphs">16.40</text><text x="64.6" y="384.4" text-anchor="end" textLength="40.2" lengthAdjust="spacingAndGlyphs">16.45</text></g>
<g font-size="14.9"><text x="119.5" y="427.8" text-anchor="middle" textLength="31.2" lengthAdjust="spacingAndGlyphs">0.00</text><text x="165.9" y="427.8" text-anchor="middle" textLength="31.2" lengthAdjust="spacingAndGlyphs">0.10</text><text x="212.3" y="427.8" text-anchor="middle" textLength="31.2" lengthAdjust="spacingAndGlyphs">0.20</text><text x="258.7" y="427.8" text-anchor="middle" textLength="31.2" lengthAdjust="spacingAndGlyphs">0.30</text><text x="305.1" y="427.8" text-anchor="middle" textLength="31.2" lengthAdjust="spacingAndGlyphs">0.40</text><text x="351.5" y="427.8" text-anchor="middle" textLength="31.2" lengthAdjust="spacingAndGlyphs">0.50</text><text x="397.9" y="427.8" text-anchor="middle" textLength="31.2" lengthAdjust="spacingAndGlyphs">0.60</text><text x="444.3" y="427.8" text-anchor="middle" textLength="31.2" lengthAdjust="spacingAndGlyphs">0.70</text><text x="490.7" y="427.8" text-anchor="middle" textLength="31.2" lengthAdjust="spacingAndGlyphs">0.80</text><text x="537.1" y="427.8" text-anchor="middle" textLength="31.2" lengthAdjust="spacingAndGlyphs">0.90</text><text x="583.5" y="427.8" text-anchor="middle" textLength="31.2" lengthAdjust="spacingAndGlyphs">1.00</text></g>
<text transform="translate(14.8,207.9) rotate(-90)" font-size="14.9" text-anchor="middle" textLength="256" lengthAdjust="spacingAndGlyphs">Reduced Magnitude(V) alpha(9.0°)</text>
<text x="394" y="32.2" font-size="23.8" textLength="231" lengthAdjust="spacingAndGlyphs">13478 Fraunhofer</text>
<g font-size="16.3">
<text x="84" y="353.8" textLength="164" lengthAdjust="spacingAndGlyphs">Period: 49.9 ± 0.2 h</text>
<text x="83" y="376" textLength="84.6" lengthAdjust="spacingAndGlyphs">Amp: 0.41</text>
<text x="81.5" y="396.7" textLength="224.2" lengthAdjust="spacingAndGlyphs">JDo(LTC): 2457433.756071</text>
</g>
<rect x="518.5" y="256.5" width="100.3" height="142" fill="#000"/>
<rect x="515.9" y="253.8" width="99.8" height="141.8" fill="#fff" stroke="#222" stroke-width="1.1"/>
<g font-size="12.2">
<text x="539.8" y="265.6">Year: 2016</text>
<text x="539.8" y="279.9">11168 - 02/15</text><text x="539.8" y="293.9">11173 - 02/16</text><text x="539.8" y="307.9">11192 - 02/24</text><text x="539.8" y="321.9">11197 - 02/25</text><text x="539.8" y="335.9">11201 - 02/26</text><text x="539.8" y="349.9">11209 - 02/28</text><text x="539.8" y="363.9">11216 - 03/01</text><text x="539.8" y="377.9">11235 - 03/07</text>
<text x="539.5" y="391.4">4th Order</text>
</g>
<rect x="524.5" y="272.5" width="8.5" height="8" fill="#008080" stroke="#202020" stroke-width="0.8"/><path d="M523.5 290.5h10M528.6 285.9v9.2" stroke="#800000" stroke-width="2.6"/><rect x="524.5" y="300.5" width="8.5" height="8" fill="#008000" stroke="#202020" stroke-width="0.8"/><path d="M523.5 318.5h10M528.6 313.9v9.2" stroke="#800080" stroke-width="2.6"/><circle cx="528.4" cy="332.5" r="3.6" fill="#800000" stroke="#200000" stroke-width="0.6"/><circle cx="528.4" cy="346.5" r="3.6" fill="#000"/><rect x="524.5" y="356.5" width="8.5" height="8" fill="#ff2000" stroke="#202020" stroke-width="0.8"/><path d="M524.2 370.5h8.6l-4.3 8z" fill="#0000ff" stroke="#000040" stroke-width="0.6"/><path d="M519.2 388.6h18.2" stroke="#000" stroke-width="2"/>
</svg>
</body></html>
